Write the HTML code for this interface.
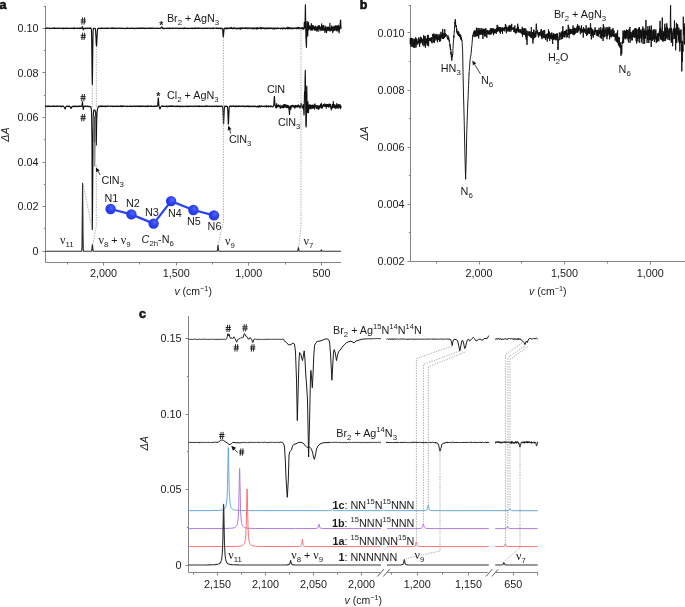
<!DOCTYPE html>
<html><head><meta charset="utf-8"><style>
html,body{margin:0;padding:0;background:#fff;overflow:hidden;}
svg{display:block;will-change:transform;}
text{font-family:"Liberation Sans",sans-serif;fill:#1a1a1a;}
</style></head><body>
<svg width="685" height="607" viewBox="0 0 685 607">
<rect width="685" height="607" fill="#fff"/>
<g id="pa">
<path d="M45.5,6 V262.5 H341 M43.8,6.5 H45.5" fill="none" stroke="#848484" stroke-width="1"/>
<line x1="42.5" x2="45.5" y1="28.5" y2="28.5" stroke="#848484" stroke-width="1"/>
<line x1="42.5" x2="45.5" y1="72.5" y2="72.5" stroke="#848484" stroke-width="1"/>
<line x1="42.5" x2="45.5" y1="117.5" y2="117.5" stroke="#848484" stroke-width="1"/>
<line x1="42.5" x2="45.5" y1="162.5" y2="162.5" stroke="#848484" stroke-width="1"/>
<line x1="42.5" x2="45.5" y1="206.5" y2="206.5" stroke="#848484" stroke-width="1"/>
<line x1="42.5" x2="45.5" y1="251.5" y2="251.5" stroke="#848484" stroke-width="1"/>
<line x1="43.8" x2="45.5" y1="50.5" y2="50.5" stroke="#848484" stroke-width="1"/>
<line x1="43.8" x2="45.5" y1="95.5" y2="95.5" stroke="#848484" stroke-width="1"/>
<line x1="43.8" x2="45.5" y1="139.5" y2="139.5" stroke="#848484" stroke-width="1"/>
<line x1="43.8" x2="45.5" y1="184.5" y2="184.5" stroke="#848484" stroke-width="1"/>
<line x1="43.8" x2="45.5" y1="228.5" y2="228.5" stroke="#848484" stroke-width="1"/>
<line x1="103.5" x2="103.5" y1="262.5" y2="265.5" stroke="#848484" stroke-width="1"/>
<line x1="176.5" x2="176.5" y1="262.5" y2="265.5" stroke="#848484" stroke-width="1"/>
<line x1="248.5" x2="248.5" y1="262.5" y2="265.5" stroke="#848484" stroke-width="1"/>
<line x1="321.5" x2="321.5" y1="262.5" y2="265.5" stroke="#848484" stroke-width="1"/>
<line x1="67.5" x2="67.5" y1="262.5" y2="264.5" stroke="#848484" stroke-width="1"/>
<line x1="139.5" x2="139.5" y1="262.5" y2="264.5" stroke="#848484" stroke-width="1"/>
<line x1="212.5" x2="212.5" y1="262.5" y2="264.5" stroke="#848484" stroke-width="1"/>
<line x1="285.5" x2="285.5" y1="262.5" y2="264.5" stroke="#848484" stroke-width="1"/>
<polyline fill="none" stroke="#111" stroke-width="1.15" stroke-linejoin="round"  points="45.50,28.43 45.70,28.15 46.10,28.47 46.30,28.13 46.50,28.26 46.70,28.00 46.90,28.38 47.10,28.46 47.30,27.85 47.50,28.31 47.70,28.19 47.90,28.27 48.10,28.20 48.30,28.30 48.50,28.20 48.70,28.29 48.90,28.13 49.10,28.33 49.30,28.11 49.50,28.65 49.70,28.24 49.90,28.43 50.10,28.23 50.30,28.40 50.50,28.33 50.70,28.51 51.10,28.21 51.70,28.40 51.90,28.28 52.10,28.40 52.50,28.13 52.70,28.37 52.90,28.39 53.10,28.18 53.30,28.47 53.70,28.14 53.90,28.46 54.10,28.29 54.30,28.32 54.50,27.83 54.70,28.49 55.30,28.27 55.50,28.43 55.70,28.19 56.30,28.34 56.70,28.20 57.10,28.48 57.30,28.49 57.50,28.42 57.70,28.05 58.10,28.15 58.30,28.34 58.50,28.15 58.70,28.31 58.90,28.22 59.30,28.29 59.70,28.19 59.90,28.44 60.10,28.20 60.30,28.49 60.50,28.13 60.70,28.38 61.10,28.33 61.30,28.47 61.50,28.31 62.10,28.35 62.30,28.23 62.50,28.66 62.70,28.43 62.90,28.46 63.50,28.02 63.70,28.58 63.90,28.18 64.10,28.58 64.30,28.31 64.50,28.24 64.70,28.36 64.90,28.19 65.10,28.36 65.30,28.30 65.50,28.43 65.70,28.01 66.10,28.57 66.30,28.20 66.50,28.50 66.70,28.15 66.90,28.41 67.10,28.47 67.70,28.02 67.90,28.36 68.10,28.22 68.30,28.22 68.70,28.67 69.10,28.13 69.30,28.43 69.50,28.50 69.90,28.23 70.10,28.20 70.50,28.34 70.70,28.26 70.90,28.40 71.10,28.01 71.30,28.06 71.50,28.44 71.70,28.21 72.10,28.18 72.30,28.39 72.70,28.47 72.90,28.10 73.30,28.35 73.50,28.12 73.70,28.10 73.90,28.28 74.10,28.14 74.30,28.75 74.50,27.93 74.70,28.34 75.10,28.40 75.50,28.21 75.90,28.25 76.10,28.39 76.30,28.19 76.50,28.24 76.70,28.42 76.90,28.18 77.30,28.33 77.50,28.13 77.90,28.15 78.10,28.35 78.50,28.43 78.90,28.05 79.10,27.99 79.30,28.59 79.50,28.19 79.70,28.31 79.90,28.10 80.10,28.09 80.30,27.85 80.50,28.45 80.70,28.54 80.90,28.45 81.10,28.11 81.50,28.38 81.70,28.04 81.90,28.20 82.30,26.76 82.50,26.66 83.10,29.35 83.30,29.80 83.50,29.52 83.90,28.34 84.30,28.27 84.50,28.44 84.90,28.20 85.10,28.32 85.30,28.70 85.70,28.15 85.90,28.44 86.10,28.40 86.30,28.19 86.50,28.51 86.90,28.36 87.10,28.54 87.50,28.21 87.70,28.33 87.90,28.03 88.10,28.43 88.30,28.31 88.70,28.47 88.90,28.38 89.10,28.45 89.30,27.95 89.50,28.51 89.90,28.45 90.10,28.19 90.50,28.24 90.70,28.45 90.90,27.94 91.30,28.80 91.50,31.37 91.70,38.97 92.10,75.22 92.30,84.42 92.50,75.17 92.90,39.15 93.10,31.47 93.30,28.91 93.50,28.50 93.90,28.22 94.10,28.41 94.30,28.39 94.70,28.59 94.90,28.33 95.10,28.37 95.30,28.76 95.50,29.64 95.90,35.62 96.30,44.57 96.50,46.09 96.70,44.44 97.30,31.95 97.50,29.76 97.90,28.32 98.10,28.35 98.30,28.13 98.70,28.43 99.50,28.39 99.70,28.24 100.10,28.57 100.70,28.22 100.90,28.52 101.10,28.17 101.30,28.29 101.50,28.14 101.70,28.39 102.10,28.01 102.30,28.46 102.50,28.24 102.70,28.36 102.90,28.19 103.10,28.16 103.30,28.42 103.50,28.25 104.10,28.49 104.30,28.34 104.70,28.40 104.90,28.20 105.10,28.47 105.30,28.51 105.50,28.44 105.70,28.19 105.90,28.39 106.10,28.11 106.30,28.10 106.70,28.52 106.90,28.16 107.10,28.17 107.30,28.38 107.50,28.39 107.70,28.38 107.90,28.18 108.10,28.26 108.50,28.14 108.70,28.44 108.90,28.13 109.10,28.49 110.30,28.20 110.50,28.28 110.90,28.20 111.10,28.45 111.30,27.86 111.50,28.51 111.70,28.26 111.90,28.45 112.10,28.44 112.50,27.83 112.70,28.36 112.90,28.26 113.10,28.29 113.30,28.54 113.50,28.14 113.70,28.03 113.90,28.16 114.10,28.13 114.30,28.45 114.50,28.51 114.70,28.23 114.90,28.58 115.10,28.15 115.30,28.46 115.50,28.25 115.70,28.34 115.90,28.14 116.30,28.44 116.50,28.36 117.50,28.51 117.70,28.15 118.10,28.47 118.50,28.17 118.70,28.37 118.90,28.01 119.10,28.15 119.30,28.05 119.50,28.26 119.70,28.19 120.10,28.51 120.30,28.27 120.50,28.32 120.70,28.24 120.90,28.57 121.10,28.16 121.50,28.51 121.90,28.44 122.10,28.17 122.30,28.25 122.50,28.16 122.90,28.41 123.10,28.19 123.50,28.39 123.70,28.31 123.90,28.45 124.10,28.24 124.30,28.47 124.50,28.45 124.70,28.75 124.90,28.56 125.10,28.59 125.30,28.31 125.50,28.48 125.70,28.42 125.90,28.22 126.10,28.44 126.30,28.29 126.50,28.33 126.70,28.17 126.90,28.34 127.10,28.00 127.30,28.38 127.50,28.16 128.10,28.32 128.30,28.15 128.50,28.39 128.70,28.43 128.90,28.25 129.10,28.43 129.30,28.44 129.50,28.43 129.70,28.26 129.90,28.33 130.10,28.59 130.30,28.49 130.50,28.07 130.70,28.39 131.10,28.27 131.30,28.48 131.50,28.13 131.70,28.28 131.90,28.23 132.10,28.00 132.50,28.45 132.70,28.34 133.10,28.32 133.30,28.57 133.70,28.23 134.10,28.47 134.30,28.35 134.50,28.53 134.70,28.25 134.90,28.46 135.10,28.40 135.30,28.56 135.50,28.23 135.70,28.41 135.90,28.39 136.30,28.16 136.50,28.27 136.70,28.18 136.90,28.43 137.30,28.07 137.50,28.39 137.70,28.26 138.10,28.29 138.30,28.51 138.50,28.17 138.70,28.04 139.10,28.46 139.30,28.38 139.50,28.05 139.70,28.60 139.90,28.31 140.10,28.46 140.30,27.92 140.50,28.27 140.70,28.07 141.30,28.47 141.50,28.05 141.70,28.36 141.90,28.30 142.10,27.93 142.30,28.06 142.50,28.45 142.70,28.31 142.90,28.44 143.10,28.10 143.30,28.44 143.50,28.20 143.90,28.12 144.30,28.75 144.50,28.31 144.70,28.39 144.90,28.14 145.10,28.37 145.30,28.17 145.70,28.47 146.10,28.27 146.30,28.37 146.50,28.20 147.10,28.44 147.50,28.24 147.90,28.53 148.30,28.17 148.90,28.34 149.10,28.14 149.30,28.32 149.70,28.13 149.90,28.34 150.10,28.20 150.30,28.59 150.70,28.13 150.90,28.17 151.10,28.40 151.30,28.02 151.50,28.38 151.90,28.14 152.10,28.17 152.30,28.46 152.50,28.15 152.90,28.24 153.10,28.16 153.30,28.38 153.70,28.24 153.90,28.37 154.30,28.26 154.50,28.38 154.70,28.14 155.10,28.28 155.30,28.21 155.50,28.31 155.90,28.25 156.30,28.42 156.50,28.41 157.10,27.96 157.30,28.13 157.50,28.51 157.90,28.43 158.10,28.28 158.90,28.46 159.50,28.28 159.90,28.46 160.30,28.29 160.50,28.36 161.10,27.67 161.50,26.91 161.70,26.87 162.10,27.60 162.30,28.33 162.70,28.35 162.90,28.56 163.10,28.28 163.30,28.23 163.70,28.38 163.90,28.14 164.10,28.53 164.50,28.24 164.70,28.59 165.50,28.24 165.70,28.45 165.90,28.28 166.30,28.43 166.50,28.28 166.70,28.33 166.90,28.63 167.10,28.26 167.30,28.13 167.50,28.19 167.70,28.40 167.90,28.17 168.10,28.47 168.30,28.57 168.50,28.26 168.70,28.44 169.10,28.12 169.30,28.59 169.70,28.21 169.90,28.56 170.10,27.99 170.30,28.30 170.70,28.52 171.10,28.32 171.30,28.40 171.90,28.29 172.10,28.05 172.30,28.46 172.50,28.22 172.90,28.50 173.10,28.31 173.50,28.18 173.90,28.41 174.10,28.17 174.30,28.42 174.70,28.20 175.30,28.17 175.50,28.21 175.70,28.41 175.90,28.19 176.10,28.43 176.70,28.05 176.90,28.03 177.30,28.35 177.90,28.22 178.10,28.59 178.30,28.42 178.70,28.31 178.90,28.42 179.10,28.29 179.30,28.41 179.70,28.15 179.90,28.42 180.50,28.43 180.70,28.15 181.10,28.45 181.30,28.49 181.70,28.38 181.90,28.12 182.70,28.35 182.90,28.55 183.10,28.43 183.30,28.56 183.50,28.22 183.70,28.42 184.10,28.14 184.30,28.42 184.50,28.45 184.70,27.91 185.30,28.39 185.70,28.19 186.10,28.57 186.50,28.42 186.70,28.17 186.90,28.09 187.30,28.62 187.50,28.48 187.70,28.51 187.90,28.24 188.30,28.35 188.50,28.28 188.70,28.33 188.90,28.17 189.10,28.43 189.70,28.48 190.10,28.33 190.30,28.44 190.50,28.25 190.70,28.35 190.90,28.29 191.10,28.51 191.50,28.00 191.90,28.44 192.10,28.16 192.50,28.60 192.90,28.14 193.10,28.49 193.30,28.47 193.70,28.04 193.90,28.46 194.10,28.15 194.30,28.38 194.50,28.20 194.70,28.29 194.90,28.18 195.10,28.59 195.30,28.05 195.50,28.45 195.70,28.08 195.90,28.25 196.10,28.02 196.30,28.39 196.50,28.02 196.70,28.36 197.10,28.01 197.30,28.17 197.70,28.19 197.90,28.47 198.10,28.47 198.50,27.83 198.70,27.85 198.90,28.32 199.10,28.40 199.30,28.41 199.70,28.22 200.10,28.36 200.30,28.19 200.70,28.23 200.90,28.13 201.10,28.16 201.30,28.40 201.50,28.24 201.90,28.27 202.30,28.62 202.50,28.32 203.10,28.27 203.30,28.42 203.50,28.31 203.70,28.41 203.90,28.16 204.10,28.34 204.50,28.14 204.90,28.49 205.10,28.23 205.50,28.40 205.70,28.39 205.90,28.18 206.30,28.40 206.50,28.13 206.70,28.16 206.90,28.44 207.10,28.37 207.50,28.47 207.70,28.11 207.90,28.30 208.50,28.29 208.70,28.04 208.90,28.46 209.30,28.15 209.50,28.20 209.70,28.48 209.90,28.53 210.30,28.30 210.50,28.02 210.70,28.32 211.70,28.23 212.30,28.45 212.50,28.07 212.90,28.31 213.10,28.17 213.30,28.76 213.50,28.12 213.70,28.38 213.90,28.04 214.10,28.31 214.30,28.13 214.70,28.23 215.30,28.14 215.50,28.28 215.90,28.19 216.10,28.46 216.50,27.91 216.70,28.53 216.90,28.42 217.10,28.14 217.70,28.40 218.10,28.07 218.30,28.60 218.50,28.22 218.70,28.27 218.90,28.13 219.70,28.52 219.90,28.27 220.30,28.55 220.50,28.07 220.70,28.41 220.90,28.32 221.10,28.71 221.30,28.22 221.70,28.29 221.90,28.17 222.50,28.90 222.70,30.01 223.10,35.49 223.30,36.83 223.50,35.41 224.10,28.40 224.30,28.47 224.50,28.76 224.70,28.20 224.90,28.32 225.10,28.73 225.50,28.11 225.70,28.62 225.90,28.14 226.10,28.86 226.30,28.12 226.50,28.09 226.70,28.20 226.90,28.62 227.10,27.71 227.50,28.58 227.70,28.10 227.90,28.31 228.30,28.38 228.50,28.57 228.70,28.28 229.10,27.99 229.30,28.49 229.50,28.09 229.90,28.20 230.10,28.51 230.30,27.80 230.50,27.94 230.70,28.35 230.90,28.50 231.10,27.37 231.30,28.29 231.50,27.98 231.70,28.34 231.90,27.99 232.10,28.47 232.50,28.77 232.90,27.99 233.10,28.41 233.30,27.72 233.70,28.54 233.90,28.16 234.10,28.62 234.50,28.25 234.70,27.76 234.90,28.41 235.10,28.35 235.30,28.51 235.50,28.19 235.90,28.57 236.10,28.26 236.30,28.87 236.50,28.47 236.70,28.47 236.90,28.31 237.10,28.44 237.30,28.87 237.50,28.30 237.90,28.47 238.10,28.36 238.30,28.46 238.50,28.23 238.70,28.49 238.90,28.00 239.30,28.26 239.50,28.85 240.30,27.77 240.70,29.25 240.90,28.13 241.10,27.97 241.30,28.60 241.50,28.07 241.70,28.25 242.30,28.48 242.50,28.04 242.70,27.94 242.90,27.57 243.10,28.41 243.50,28.53 243.90,28.46 244.30,28.07 244.50,28.55 244.70,28.08 244.90,28.20 245.10,28.60 245.30,27.91 245.70,28.37 245.90,27.78 246.10,27.78 246.30,28.23 246.50,27.82 246.70,28.28 247.10,28.06 247.50,28.59 247.70,28.05 247.90,28.64 248.10,27.97 248.30,27.96 248.50,28.57 248.70,28.01 249.10,28.17 249.30,27.95 249.50,28.26 249.70,28.06 249.90,28.17 250.10,27.91 250.30,28.26 250.50,28.33 250.70,28.17 250.90,28.84 251.30,28.08 251.50,28.27 251.90,28.10 252.30,28.12 252.50,28.79 252.70,28.09 252.90,28.00 253.10,28.37 253.30,28.19 253.50,28.72 253.70,28.10 253.90,28.44 254.10,27.91 254.30,28.59 254.50,28.50 254.70,28.71 254.90,27.99 255.10,28.16 255.30,28.05 255.50,28.52 255.70,28.23 255.90,28.32 256.10,28.88 256.30,27.87 256.50,28.33 256.70,28.54 256.90,29.15 257.10,28.05 257.30,27.65 257.50,27.57 257.70,28.03 257.90,28.18 258.10,28.54 258.30,28.04 258.50,28.07 258.90,28.60 259.30,28.04 259.50,28.04 259.90,28.28 260.10,28.58 260.50,27.35 260.70,27.75 260.90,27.93 261.10,28.68 261.30,27.83 261.50,28.02 261.70,28.89 262.10,27.87 262.30,28.19 262.50,28.19 262.70,28.34 262.90,27.99 263.10,27.96 263.30,28.25 263.70,28.53 263.90,27.71 264.10,28.51 264.50,28.49 264.70,28.84 264.90,27.97 265.10,28.44 265.30,28.36 265.50,28.55 265.70,28.40 265.90,28.05 266.10,28.03 266.30,28.28 266.50,27.99 266.70,28.88 267.10,27.82 267.30,28.43 267.50,28.57 267.70,28.24 268.10,28.47 268.30,27.99 268.50,28.56 268.70,28.01 268.90,28.59 269.30,28.31 269.50,27.79 269.70,28.38 269.90,28.34 270.10,27.97 270.50,28.23 270.70,28.66 270.90,28.64 271.30,28.07 271.50,28.25 271.70,28.07 271.90,28.41 272.10,28.50 272.30,28.43 272.70,28.07 272.90,28.05 273.10,29.05 273.30,28.01 273.50,28.65 273.70,28.16 274.10,28.97 274.30,28.47 274.50,28.38 274.70,28.64 274.90,28.49 275.10,27.78 275.30,27.95 275.50,28.63 275.70,28.38 276.10,28.46 276.30,28.81 276.50,28.38 276.70,28.36 276.90,27.93 277.10,28.02 277.50,28.50 277.90,27.81 278.10,28.44 278.30,28.13 278.70,28.56 278.90,28.61 279.30,28.28 279.50,28.52 279.70,28.49 280.30,28.13 280.70,28.86 280.90,28.62 281.10,28.56 281.30,28.10 281.50,28.44 281.70,28.34 282.10,28.64 282.30,28.16 282.70,29.06 283.10,27.97 283.30,28.25 283.50,27.86 283.70,28.47 283.90,28.54 284.30,28.11 284.50,28.07 284.90,28.58 285.10,28.34 285.30,28.48 285.50,28.83 285.70,28.03 285.90,28.38 286.10,27.94 286.30,28.37 286.50,28.54 286.90,28.45 287.10,28.83 287.30,27.39 287.50,28.79 287.70,28.25 287.90,28.04 288.10,28.19 288.30,27.39 288.70,28.86 289.10,27.96 289.50,28.42 289.70,27.50 289.90,28.12 290.10,27.99 290.50,28.33 290.70,28.72 290.90,27.91 291.10,28.75 291.30,28.37 291.50,28.56 291.70,28.07 291.90,28.94 292.10,28.16 292.30,28.29 292.50,28.64 292.70,28.11 293.10,28.06 293.30,28.60 293.50,28.45 293.70,28.59 293.90,27.97 294.10,28.51 294.30,28.07 294.50,28.40 294.70,28.51 294.90,28.00 295.10,28.11 295.30,28.45 295.50,27.95 295.70,28.22 295.90,28.08 296.10,28.09 296.30,28.79 296.50,28.19 296.70,27.96 296.90,28.50 297.10,27.42 297.30,28.27 297.70,27.93 297.90,28.59 298.10,28.52 298.30,27.73 298.50,27.40 298.90,28.84 299.10,28.04 299.30,28.04 299.50,27.50 299.70,28.08 300.10,28.35 300.30,28.35 300.50,28.06 300.70,28.28 300.90,28.73 301.10,27.79 301.30,28.10 301.50,28.19 301.70,28.71 301.90,28.66 302.10,27.52 302.30,27.64 302.50,28.18 302.70,27.81 303.10,29.48 303.30,28.38 303.50,28.32 303.70,27.93 303.90,28.16 304.10,28.80 304.30,22.33 304.50,25.57 304.60,24.13 304.70,24.12 304.90,27.92 305.10,22.94 305.40,4.75 305.90,36.38 306.40,47.31 307.10,21.41 307.30,23.21 307.50,33.56 307.70,35.90 307.90,31.30 308.10,29.30 308.30,23.41 308.40,25.34 308.50,22.40 308.70,27.72 308.90,29.59 309.30,25.79 309.50,26.48 309.70,28.78 309.90,26.50 310.10,26.19 310.30,28.83 310.50,28.00 310.70,28.12 310.90,30.43 311.10,28.54 311.30,23.53 311.70,28.44 311.90,29.46 312.30,30.09 312.50,29.62 312.70,25.25 312.90,27.89 313.10,25.56 313.50,28.45 313.70,26.14 313.90,26.52 314.10,30.08 314.30,27.66 314.50,28.97 314.70,27.73 314.90,27.42 315.10,29.93 315.30,29.58 315.50,26.14 315.70,29.59 316.10,27.04 316.30,30.84 316.50,27.71 316.70,30.67 316.90,27.48 317.30,29.61 317.50,26.46 317.70,26.79 317.90,26.13 318.10,31.38 318.30,26.44 318.50,25.81 318.70,27.86 318.90,26.74 319.10,28.89 319.30,25.47 319.50,28.19 319.70,26.43 319.90,26.80 320.10,30.69 320.30,27.16 320.50,29.52 320.70,27.72 320.90,29.10 321.30,26.96 321.50,30.07 321.70,23.87 321.90,30.12 322.10,30.11 322.30,29.14 322.50,25.83 322.70,30.02 322.90,28.75 323.10,30.46 323.30,27.01 323.50,25.99 323.70,28.26 323.90,25.32 324.30,29.87 324.50,28.64 324.70,29.68 324.90,32.40 325.10,28.73 325.30,30.97 325.70,26.41 325.90,27.45 326.10,27.67 326.30,27.42 326.50,32.60 326.70,27.86 326.90,27.90 327.10,29.17 327.30,29.01 327.50,29.09 327.70,26.96 327.90,30.63 328.10,30.29 328.50,27.12 328.70,30.13 328.90,29.96 329.30,29.02 329.50,27.81 329.70,30.59 329.90,23.36 330.10,31.12 330.50,27.93 330.70,29.95 330.90,28.41 331.10,30.37 331.30,28.57 331.50,28.83 331.70,25.80 331.90,30.09 332.10,29.99 332.30,26.94 332.50,27.89 332.70,32.55 332.90,29.34 333.10,28.85 333.30,31.21 333.50,27.88 333.70,30.24 333.90,26.12 334.30,27.36 334.50,26.84 334.70,30.19 334.90,30.02 335.10,29.38 335.30,26.69 335.50,25.72 335.70,28.91 335.90,27.97 336.10,25.83 336.30,30.92 336.50,29.47 336.70,26.12 336.90,29.74 337.10,26.20 337.50,29.44 337.70,27.19 337.90,31.06 338.10,25.42 338.30,28.59 338.70,25.40 338.90,27.55 339.10,32.87 339.30,28.03 339.50,30.05 339.90,27.28 340.10,27.82 340.30,22.70 340.50,20.03 340.70,20.45 340.90,26.01 341.10,28.84"/>
<polyline fill="none" stroke="#111" stroke-width="1.15" stroke-linejoin="round"  points="45.50,106.80 45.70,106.13 45.90,106.47 46.10,106.17 46.30,106.37 46.50,106.16 46.70,106.26 46.90,106.65 47.10,106.35 47.50,106.10 47.90,106.46 48.30,106.10 48.50,106.15 48.70,106.51 48.90,106.08 49.10,106.51 49.30,106.58 49.70,106.50 49.90,105.92 50.10,106.45 50.30,106.31 50.50,106.48 50.90,106.46 51.10,106.27 51.30,106.48 51.90,106.07 52.10,106.04 52.30,106.09 52.50,106.53 52.70,106.31 52.90,106.36 53.10,106.18 53.30,106.48 53.50,106.00 53.70,106.46 53.90,105.95 54.30,106.14 54.50,106.46 54.90,106.12 55.10,106.46 55.50,106.24 55.90,106.49 56.50,106.06 56.70,106.38 57.10,105.91 57.50,106.47 57.70,106.23 57.90,106.28 58.30,106.59 58.70,106.18 59.10,106.28 59.30,106.04 59.50,106.26 59.90,106.03 60.30,106.32 60.50,106.11 60.70,106.16 61.10,106.50 61.30,106.85 61.50,106.28 61.90,106.51 62.10,106.13 62.30,106.31 62.50,106.10 62.90,106.12 63.30,106.19 63.70,106.45 63.90,106.70 64.50,107.69 64.70,108.48 65.10,109.03 65.90,106.73 66.10,106.65 66.30,106.37 66.70,106.35 66.90,106.21 67.10,106.48 68.10,106.14 68.50,106.62 68.70,105.97 68.90,106.49 69.10,106.30 69.50,106.15 70.10,106.95 70.30,106.74 70.90,108.24 71.10,108.02 71.30,108.36 71.70,107.10 71.90,107.20 72.10,106.31 72.30,106.30 72.50,106.47 72.70,106.32 72.90,106.32 73.10,106.59 73.50,106.13 73.70,106.27 73.90,106.23 74.10,106.62 74.30,106.15 74.50,106.10 74.70,106.46 75.10,106.26 75.30,106.61 75.70,106.11 76.10,106.55 76.30,106.35 76.70,106.45 76.90,106.29 77.10,106.57 77.70,106.37 77.90,106.73 78.30,106.09 78.50,106.36 78.70,106.43 79.10,106.20 79.50,106.50 79.70,106.09 79.90,106.44 80.10,106.48 80.70,106.10 80.90,106.41 81.10,106.41 81.30,106.23 81.50,106.50 81.70,106.02 81.90,106.01 82.50,101.94 83.10,108.68 83.30,109.49 83.70,107.48 84.10,106.32 84.30,106.03 84.70,106.45 84.90,106.39 85.10,106.19 85.30,106.19 85.50,106.49 86.10,106.12 86.30,106.16 86.50,106.21 86.70,106.60 87.10,106.11 87.50,106.37 87.90,106.11 88.10,106.39 88.50,106.46 88.70,106.30 88.90,106.61 89.10,106.48 89.50,106.64 89.70,106.30 90.60,106.80 91.20,108.30 91.60,112.00 92.00,140.00 92.30,229.50 92.60,200.00 93.00,140.00 93.30,115.00 93.80,110.00 94.80,110.00 95.60,112.00 96.00,125.00 96.30,145.00 96.60,125.00 97.00,112.00 97.60,108.50 98.30,107.00 98.70,106.30 98.90,106.15 99.10,106.12 99.30,106.48 99.50,106.32 99.70,106.56 100.10,106.14 100.50,106.18 100.90,106.58 101.30,105.92 101.50,106.43 101.70,106.10 102.30,106.43 102.70,106.21 102.90,106.64 103.10,106.39 103.30,106.41 103.70,106.17 104.10,106.47 104.30,106.28 104.70,106.53 104.90,106.11 105.10,106.14 105.70,106.75 105.90,106.21 106.10,106.44 106.30,106.14 106.50,106.38 106.90,106.27 107.10,106.04 107.30,106.14 107.50,105.98 107.70,106.32 107.90,106.31 108.10,105.97 108.30,106.44 108.50,106.26 108.90,106.20 109.10,106.29 109.50,106.22 109.70,106.34 109.90,106.11 110.10,106.41 110.30,106.43 110.50,106.18 110.70,106.16 110.90,106.46 111.10,106.22 111.50,106.19 111.70,106.27 111.90,105.96 112.30,106.34 112.50,106.12 112.70,106.47 112.90,106.30 113.10,106.59 113.30,106.22 113.50,106.78 113.70,106.39 114.10,106.32 114.30,106.18 114.50,106.37 115.10,106.18 115.30,106.25 115.50,106.18 115.70,106.43 115.90,106.49 116.10,105.99 116.30,106.23 116.50,106.13 117.10,106.46 117.30,106.10 117.50,106.14 117.90,106.35 118.10,106.61 118.30,106.32 118.50,106.37 118.70,106.15 119.10,106.49 119.30,106.23 119.50,106.42 120.10,106.51 120.30,106.31 120.50,105.77 120.70,106.44 120.90,106.37 121.10,106.54 121.30,106.00 121.50,106.35 121.90,106.06 122.30,106.67 122.70,105.79 122.90,106.42 123.30,105.86 123.50,106.12 123.90,106.26 124.10,106.21 124.30,105.99 124.70,106.47 124.90,106.27 125.10,106.25 125.30,106.38 125.50,106.27 125.70,106.49 126.30,106.24 126.70,106.45 126.90,106.20 127.10,106.29 127.30,106.20 127.70,106.66 127.90,105.97 128.10,106.44 128.30,106.35 128.90,106.45 129.30,106.31 129.50,106.49 129.70,106.24 129.90,106.47 130.10,106.41 130.30,105.87 130.50,106.35 130.70,106.49 130.90,106.18 131.10,106.49 131.30,106.20 131.50,106.19 131.70,106.37 131.90,106.24 132.10,106.50 132.30,106.23 132.50,106.38 132.70,106.36 132.90,106.58 133.30,106.11 133.70,106.15 133.90,106.46 134.10,106.44 134.30,106.12 134.50,106.26 134.90,106.10 135.10,106.30 135.30,105.99 135.70,106.63 136.30,106.07 136.50,106.44 136.70,106.40 136.90,106.21 137.30,106.45 137.50,105.94 137.70,106.43 137.90,106.11 138.30,106.36 138.50,106.16 138.70,106.29 138.90,106.17 139.30,106.69 139.90,105.95 140.10,106.42 140.30,106.17 140.50,106.44 140.70,106.46 141.30,105.94 141.50,106.57 141.70,106.49 141.90,106.15 142.10,106.12 142.30,106.32 142.50,106.15 142.70,106.46 142.90,106.27 143.10,106.34 143.30,106.17 143.50,106.23 143.70,106.06 144.10,106.51 144.30,106.54 144.50,106.48 144.70,106.14 144.90,106.42 145.10,106.48 145.30,106.81 145.50,106.20 145.70,106.56 146.10,106.10 146.30,106.45 146.70,106.40 146.90,106.50 147.10,106.21 147.30,106.35 147.50,105.87 147.70,106.58 148.10,106.22 148.30,106.46 148.50,106.13 148.70,106.38 148.90,106.11 149.10,106.13 149.50,106.37 149.70,106.18 149.90,106.47 150.10,106.17 150.30,106.48 150.90,106.11 151.10,106.32 151.30,105.84 151.50,106.45 151.70,106.37 151.90,106.45 152.10,106.22 152.30,106.19 152.50,106.26 152.70,106.19 153.10,106.40 153.50,106.19 153.90,106.67 154.10,106.15 154.30,106.22 154.50,106.09 154.70,106.38 154.90,106.08 155.10,106.42 155.30,106.22 155.70,106.20 155.90,106.31 156.10,106.17 156.50,106.49 156.70,105.93 157.10,106.31 157.30,106.19 157.70,105.58 158.10,99.49 158.30,97.86 158.50,99.38 158.70,102.98 159.10,106.71 159.50,107.35 159.90,109.02 160.10,108.60 160.30,108.51 160.50,107.45 161.10,106.44 161.70,106.10 161.90,106.23 162.10,105.80 162.70,106.46 162.90,106.17 163.30,106.24 163.50,106.57 163.70,106.22 163.90,106.18 164.10,106.38 164.90,106.44 165.30,106.24 165.50,106.47 165.70,106.28 165.90,106.76 166.30,106.09 166.50,106.39 166.70,106.49 166.90,105.97 167.30,106.34 167.50,106.75 167.70,106.37 167.90,106.41 168.10,106.19 168.30,106.58 168.70,106.21 168.90,106.19 169.10,106.37 169.50,105.74 169.70,106.39 169.90,106.15 170.10,106.56 170.30,106.15 170.50,106.12 170.70,106.30 171.10,106.13 171.30,106.35 171.50,106.15 171.70,106.62 171.90,105.79 172.30,106.37 172.50,106.20 172.70,106.44 173.10,106.02 173.30,106.36 173.90,106.29 174.10,106.17 174.30,106.36 174.50,106.17 174.90,106.34 175.10,106.23 175.30,106.47 175.50,106.14 175.90,106.59 176.30,106.14 176.50,106.33 176.70,106.35 176.90,106.58 177.10,106.07 177.30,106.77 177.50,106.01 177.70,106.31 177.90,106.20 178.10,106.51 178.30,106.16 178.70,105.97 178.90,106.13 179.10,106.64 179.30,106.36 179.70,106.66 179.90,106.12 180.10,106.15 180.30,106.56 180.50,106.17 180.90,106.65 181.10,106.35 181.50,106.18 182.10,106.43 182.30,106.27 182.70,106.56 182.90,106.24 183.10,106.55 183.30,106.37 183.70,106.21 183.90,106.57 184.10,106.59 184.50,106.38 184.70,106.48 185.10,106.27 185.30,106.42 185.70,106.18 185.90,106.59 186.50,106.13 186.70,106.32 186.90,106.02 187.30,106.20 187.50,106.61 187.70,106.29 187.90,106.30 188.10,106.80 188.30,106.26 188.70,106.43 189.10,106.07 189.30,106.35 189.70,106.17 189.90,106.42 190.30,106.23 190.50,106.41 190.70,106.00 191.10,106.53 191.50,106.34 191.70,106.12 192.10,106.44 192.30,106.26 192.50,106.31 192.90,106.19 193.10,106.43 193.30,106.42 193.50,106.09 193.70,106.47 193.90,106.59 194.10,106.27 194.30,106.56 194.50,106.41 194.70,106.02 194.90,106.16 195.10,106.10 195.30,105.84 195.50,106.20 195.70,106.12 196.10,106.48 196.30,106.13 196.50,106.32 196.70,106.13 196.90,106.31 197.30,106.25 197.50,106.51 197.70,106.13 197.90,106.41 198.10,106.01 198.30,106.28 198.50,106.14 198.70,106.65 198.90,106.30 199.10,106.36 199.50,105.96 199.90,106.43 200.10,106.48 200.30,106.23 200.50,106.37 200.70,106.14 200.90,106.20 201.10,106.45 201.30,106.10 201.50,106.42 201.70,106.41 201.90,106.57 202.10,106.10 202.30,106.26 202.50,106.22 202.70,106.50 202.90,106.49 203.10,106.26 203.50,106.31 203.70,106.23 203.90,106.52 204.10,106.22 204.30,106.46 204.50,106.20 204.70,106.55 204.90,106.16 205.30,106.18 205.50,106.45 205.70,106.13 205.90,106.50 206.10,106.43 206.50,105.82 206.70,106.31 206.90,106.41 207.10,106.11 207.50,106.36 207.70,106.19 208.10,106.27 208.30,106.17 208.50,106.37 208.70,106.21 208.90,106.21 209.10,106.43 209.30,105.97 209.50,106.44 209.70,106.32 209.90,106.62 210.10,106.27 210.50,106.49 210.70,106.34 211.10,106.31 211.30,106.59 211.50,106.46 211.70,106.09 212.30,106.55 212.50,106.33 212.70,106.43 212.90,106.29 213.10,105.96 213.30,106.07 213.50,106.37 213.90,106.11 214.30,106.09 214.70,106.52 214.90,106.10 215.10,106.32 215.30,106.39 215.50,106.38 215.70,106.21 215.90,106.41 216.10,106.32 216.30,105.97 216.70,106.44 217.30,106.09 217.70,106.81 218.10,106.15 218.30,106.38 218.50,106.11 218.90,106.41 219.10,106.01 219.30,106.38 219.70,106.57 220.10,106.37 220.30,106.41 220.70,106.24 220.90,106.59 221.10,106.15 221.30,105.98 221.70,106.26 221.90,106.07 222.10,106.42 222.30,106.28 222.70,106.80 222.90,108.57 223.50,123.39 223.60,124.02 224.30,108.77 224.50,106.96 224.90,106.12 225.10,106.12 225.50,106.41 225.70,106.25 226.30,106.46 226.50,106.15 226.70,106.42 227.10,106.24 227.30,106.28 227.70,108.51 228.30,123.48 228.40,124.28 228.50,123.38 229.10,108.41 229.30,107.27 229.70,106.09 230.10,106.30 230.30,106.08 230.50,106.39 230.70,106.01 230.90,106.51 231.10,105.95 231.50,106.58 231.70,106.56 231.90,106.02 232.10,106.33 232.50,106.47 232.70,106.07 232.90,106.20 233.10,106.07 233.30,106.14 233.50,105.78 233.70,106.24 233.90,105.89 234.10,106.50 234.30,106.60 234.70,106.16 235.10,106.67 235.30,106.09 235.50,106.78 235.70,106.14 235.90,106.53 236.10,106.44 236.30,105.79 236.90,106.51 237.10,106.45 237.30,106.77 237.50,106.45 237.70,106.48 237.90,106.08 238.10,105.91 238.30,106.58 238.70,106.45 238.90,106.00 239.10,106.36 239.30,106.37 239.50,106.22 239.70,106.44 239.90,106.13 240.30,106.01 240.50,106.37 240.90,106.25 241.10,106.36 241.30,106.01 241.50,106.48 241.70,106.49 241.90,106.07 242.10,106.34 242.30,106.15 242.50,106.31 242.90,106.16 243.10,106.52 243.30,106.08 243.90,106.63 244.10,106.05 244.50,106.72 244.70,106.04 244.90,106.36 245.50,106.45 245.70,106.74 245.90,106.15 246.10,106.10 246.30,106.34 246.70,106.13 246.90,106.32 247.10,106.02 247.30,105.97 247.70,106.50 247.90,105.98 248.10,106.84 248.30,106.35 248.70,106.75 249.10,105.81 249.30,106.34 249.50,106.07 249.70,106.00 250.10,106.63 250.50,106.59 251.10,106.27 251.30,106.63 251.50,106.54 251.70,106.01 251.90,106.72 252.10,106.25 252.30,106.10 252.70,106.47 252.90,106.48 253.10,106.24 253.50,106.61 253.70,106.13 253.90,106.38 254.10,105.98 254.30,106.74 254.70,106.36 255.10,106.44 255.30,106.16 255.50,106.25 255.70,106.59 255.90,106.34 256.10,106.32 256.30,106.52 256.50,106.47 256.70,106.54 256.90,107.13 257.10,106.42 257.30,106.15 257.50,106.71 257.70,106.18 258.10,106.11 258.30,107.06 258.50,106.53 258.70,106.55 258.90,106.32 259.10,106.52 259.30,105.52 259.50,106.21 259.90,106.88 260.10,106.60 260.30,105.99 260.50,106.83 260.70,106.26 260.90,106.53 261.10,106.06 261.30,106.40 261.50,105.99 261.70,106.06 261.90,106.38 262.10,106.42 262.30,105.98 262.50,106.31 262.70,106.34 262.90,106.28 263.10,106.00 263.30,106.44 263.50,106.38 263.70,106.43 263.90,106.26 264.10,106.79 264.70,106.08 264.90,106.11 265.10,106.50 265.50,105.99 265.70,106.28 265.90,105.91 266.10,106.01 266.30,105.76 266.50,107.11 266.70,106.16 266.90,105.99 267.10,106.32 267.50,106.25 267.70,105.99 267.90,106.52 268.30,106.84 268.50,106.17 268.70,105.91 268.90,106.52 269.30,106.54 269.50,106.19 269.70,106.58 269.90,106.15 270.10,106.02 270.30,106.09 270.50,106.81 270.70,106.63 270.90,106.10 271.10,106.44 271.30,106.04 271.50,106.16 271.70,106.62 271.90,106.52 272.30,106.58 272.50,106.50 272.70,106.83 272.90,106.79 273.10,106.18 273.30,106.20 273.50,106.00 273.90,104.28 274.10,99.49 274.30,98.10 274.40,96.24 274.50,96.92 274.90,104.81 275.10,105.49 275.30,105.25 275.50,107.18 275.70,107.60 276.10,105.38 276.30,108.03 276.50,106.51 276.70,103.50 276.90,107.12 277.10,106.73 277.30,105.75 277.50,105.84 277.70,106.63 277.90,106.66 278.10,106.35 278.30,104.77 278.50,105.29 278.70,106.39 279.10,106.46 279.30,106.80 279.50,105.94 279.70,105.78 279.90,106.49 280.10,105.19 280.30,108.31 280.50,107.19 280.70,107.05 280.90,107.08 281.10,106.51 281.30,107.22 281.50,105.71 281.70,107.75 282.30,105.65 282.50,107.37 282.70,106.09 282.90,106.36 283.10,106.97 283.30,106.23 283.50,107.83 283.70,104.56 283.90,105.47 284.10,104.65 284.30,106.76 284.50,107.08 284.70,107.14 284.90,104.63 285.10,104.52 285.30,106.76 285.50,105.36 285.70,105.80 285.90,105.35 286.10,107.53 286.30,107.41 286.70,105.16 286.90,106.96 287.10,107.78 287.50,105.31 287.70,107.44 287.90,106.03 288.10,106.81 288.30,105.50 288.50,107.93 288.70,106.08 288.90,107.44 289.50,114.46 289.90,107.64 290.30,106.00 290.50,107.17 290.70,107.49 290.90,109.12 291.10,105.84 291.30,107.03 291.50,106.93 291.70,105.65 291.90,107.15 292.10,105.63 292.30,105.43 292.50,106.25 292.70,106.28 292.90,105.50 293.10,105.31 293.30,106.47 293.50,105.51 293.70,105.96 293.90,107.20 294.30,105.95 294.70,108.11 295.10,105.93 295.30,105.44 295.50,107.27 295.70,107.31 295.90,105.76 296.10,105.43 296.30,106.87 296.70,106.85 296.90,106.58 297.10,105.71 297.50,107.04 297.70,105.41 297.90,106.40 298.10,106.78 298.30,105.39 298.50,104.92 298.70,106.75 298.90,105.94 299.30,107.06 299.50,106.71 299.70,105.83 299.90,105.92 300.10,107.95 300.30,106.54 300.50,105.96 300.70,106.98 301.10,103.23 301.30,106.56 301.50,106.30 301.70,106.23 302.10,107.02 302.30,106.69 302.50,106.97 302.70,108.09 302.90,105.62 303.10,104.67 303.30,108.04 303.50,107.20 303.70,109.46 304.00,114.87 304.10,113.42 304.50,93.54 304.70,91.25 304.90,93.95 305.10,78.29 305.30,70.42 305.90,125.20 306.10,126.91 306.30,124.48 306.80,85.99 307.10,107.19 307.30,112.44 307.50,112.31 307.70,103.66 307.90,101.92 308.10,104.18 308.50,112.62 308.70,108.47 308.90,108.50 309.10,105.39 309.30,107.80 309.50,107.52 309.70,108.74 309.90,104.52 310.30,108.50 310.50,105.43 310.90,108.90 311.10,105.34 311.30,105.25 311.50,107.90 311.70,106.27 311.90,108.04 312.10,105.74 312.30,105.40 312.50,108.19 312.70,105.06 312.90,104.97 313.30,107.15 313.50,106.68 313.70,108.13 313.90,105.22 314.10,107.10 314.30,105.01 314.50,109.06 314.70,104.74 314.90,103.78 315.30,106.11 315.50,105.75 315.90,106.72 316.10,107.92 316.50,105.65 316.90,108.69 317.10,108.87 317.50,106.32 317.70,105.60 317.90,105.76 318.10,105.69 318.30,108.19 318.50,107.15 318.70,109.49 318.90,107.76 319.10,108.83 319.30,106.34 319.50,107.07 319.70,105.50 319.90,106.65 320.10,106.20 320.30,107.73 320.50,104.66 320.70,106.48 320.90,106.09 321.10,105.12 321.30,103.22 321.70,108.11 321.90,106.34 322.10,106.55 322.30,105.91 322.50,107.92 322.70,106.57 322.90,106.26 323.10,104.61 323.30,104.68 323.50,106.09 323.90,105.43 324.10,104.23 324.30,104.52 324.50,106.04 324.70,106.11 324.90,103.83 325.10,106.53 325.30,106.05 325.50,106.06 325.70,104.83 325.90,105.81 326.10,104.98 326.30,108.07 326.50,104.34 326.70,106.24 326.90,104.65 327.10,105.48 327.30,104.68 327.50,106.43 327.70,105.85 327.90,106.28 328.10,104.72 328.30,104.20 328.50,107.02 328.70,106.51 328.90,107.04 329.10,106.13 329.30,106.46 329.50,104.08 329.70,106.14 329.90,106.25 330.10,105.78 330.30,104.46 330.50,104.40 330.70,107.49 330.90,107.00 331.30,110.03 331.50,106.79 331.70,106.83 331.90,108.62 332.30,104.60 332.50,104.72 332.70,107.36 332.90,107.35 333.10,107.62 333.30,101.61 333.50,106.93 333.70,104.47 333.90,107.08 334.10,104.99 334.30,104.48 334.50,105.67 334.70,105.80 334.90,107.97 335.10,105.00 335.30,105.14 335.50,108.52 335.70,106.82 336.30,107.90 336.50,107.28 336.70,103.51 336.90,103.79 337.10,108.00 337.30,105.10 337.50,104.98 337.70,108.05 337.90,106.38 338.10,107.31 338.30,104.66 338.50,107.86 338.70,107.92 339.10,104.84 339.30,107.09 339.50,106.70 339.70,106.63 339.90,107.07 340.10,104.61 340.30,105.35 340.50,108.59 340.90,106.03 341.10,107.70"/>
<path d="M92.7,116 L96.2,116 L95.3,166.5 L93.7,166.5 Z" fill="#8e8e8e"/>
<path d="M93.2,116 L95.9,116 L95.2,142 L93.8,142 Z" fill="#5a5a5a"/>
<polyline fill="none" stroke="#2e2e2e" stroke-width="1.15" stroke-linejoin="round"  points="45.50,251.20 81.25,251.20 81.50,251.20 81.75,250.99 82.00,247.39 82.60,183.40 83.00,232.35 83.25,248.89 83.50,251.10 83.75,251.20 91.00,251.20 91.50,251.13 91.75,250.58 92.25,245.46 92.40,244.70 92.50,245.05 93.00,250.32 93.25,251.08 93.75,251.20 216.75,251.20 217.00,251.18 217.25,250.93 217.50,249.65 218.00,245.00 218.50,249.65 218.75,250.93 219.00,251.18 219.25,251.20 297.25,251.20 297.50,251.16 297.75,250.87 298.25,248.11 298.40,247.70 298.50,247.89 299.00,250.73 299.25,251.14 299.50,251.20 320.50,251.19 320.75,251.08 321.40,249.90 322.00,251.02 322.25,251.18 322.50,251.20 341.00,251.20"/>
<path d="M92.3,85 V108 M96.3,46 V108 M83.4,186 L92.2,229 M96.3,165 V226 L92.8,244 M223.4,37 V222 L218.2,244 M301,30 V226 L298.6,247" stroke="#8a8a8a" stroke-width="0.7" stroke-dasharray="1.4 1.2" fill="none"/>
</g>
<text x="-0.6" y="8.8" font-size="12.5" text-anchor="start" font-weight="bold" stroke="#000" stroke-width="0.55">a</text>
<text x="38.5" y="32.1" font-size="10.8" text-anchor="end" >0.10</text>
<text x="38.5" y="76.7" font-size="10.8" text-anchor="end" >0.08</text>
<text x="38.5" y="121.3" font-size="10.8" text-anchor="end" >0.06</text>
<text x="38.5" y="165.8" font-size="10.8" text-anchor="end" >0.04</text>
<text x="38.5" y="210.4" font-size="10.8" text-anchor="end" >0.02</text>
<text x="38.5" y="255.0" font-size="10.8" text-anchor="end" >0</text>
<text x="103.6" y="277.0" font-size="10.8" text-anchor="middle" >2,000</text>
<text x="176.2" y="277.0" font-size="10.8" text-anchor="middle" >1,500</text>
<text x="248.8" y="277.0" font-size="10.8" text-anchor="middle" >1,000</text>
<text x="321.4" y="277.0" font-size="10.8" text-anchor="middle" >500</text>
<text x="174.4" y="295.0" font-size="10.5" text-anchor="start" ><tspan font-style="italic">v</tspan> (cm<tspan font-size="7.3" baseline-shift="4.2">&#8722;1</tspan>)</text>
<text transform="translate(8.9,134.5) rotate(-90)" font-size="10.8" font-style="italic" text-anchor="middle">&#916;A</text>
<text x="166.9" y="22.3" font-size="10.8" text-anchor="start" >Br<tspan font-size="7.8" baseline-shift="-3.1">2</tspan> + AgN<tspan font-size="7.8" baseline-shift="-3.1">3</tspan></text>
<text x="167.0" y="99.0" font-size="10.8" text-anchor="start" >Cl<tspan font-size="7.8" baseline-shift="-3.1">2</tspan> + AgN<tspan font-size="7.8" baseline-shift="-3.1">3</tspan></text>
<text x="267.0" y="92.9" font-size="10.8" text-anchor="start" >ClN</text>
<text x="278.0" y="126.4" font-size="10.8" text-anchor="start" >ClN<tspan font-size="7.8" baseline-shift="-3.1">3</tspan></text>
<text x="229.0" y="143.1" font-size="10.8" text-anchor="start" >ClN<tspan font-size="7.8" baseline-shift="-3.1">3</tspan></text>
<text x="101.5" y="183.7" font-size="10.8" text-anchor="start" >ClN<tspan font-size="7.8" baseline-shift="-3.1">3</tspan></text>
<path d="M82.60,17.30 L81.90,24.60 M84.70,17.30 L84.00,24.60 M80.65,19.93 H85.95 M80.65,21.97 H85.95" stroke="#1a1a1a" stroke-width="0.95" fill="none"/>
<path d="M82.60,32.70 L81.90,40.00 M84.70,32.70 L84.00,40.00 M80.65,35.33 H85.95 M80.65,37.37 H85.95" stroke="#1a1a1a" stroke-width="0.95" fill="none"/>
<path d="M82.40,94.00 L81.70,101.30 M84.50,94.00 L83.80,101.30 M80.45,96.63 H85.75 M80.45,98.67 H85.75" stroke="#1a1a1a" stroke-width="0.95" fill="none"/>
<path d="M82.40,114.00 L81.70,121.30 M84.50,114.00 L83.80,121.30 M80.45,116.63 H85.75 M80.45,118.67 H85.75" stroke="#1a1a1a" stroke-width="0.95" fill="none"/>
<text x="161.3" y="28.6" font-size="10.5" text-anchor="middle" font-weight="bold">*</text>
<text x="158.2" y="100.2" font-size="10.5" text-anchor="middle" font-weight="bold">*</text>
<line x1="230.8" y1="133.5" x2="229.6" y2="129.8" stroke="#111" stroke-width="0.8"/><path d="M228.3,125.6 L231.5,129.2 L227.7,130.4 Z" fill="#111"/>
<line x1="100.2" y1="175.0" x2="98.0" y2="171.2" stroke="#111" stroke-width="0.8"/><path d="M95.8,167.4 L99.7,170.2 L96.3,172.2 Z" fill="#111"/>
<text x="60.0" y="243.6" font-size="10.8" text-anchor="start" ><tspan font-family="Liberation Serif" font-size="12">&#957;</tspan><tspan font-size="7.8" baseline-shift="-3.1">11</tspan></text>
<text x="98.6" y="243.6" font-size="10.8" text-anchor="start" ><tspan font-family="Liberation Serif" font-size="12">&#957;</tspan><tspan font-size="7.8" baseline-shift="-3.1">8</tspan> + <tspan font-family="Liberation Serif" font-size="12">&#957;</tspan><tspan font-size="7.8" baseline-shift="-3.1">9</tspan></text>
<text x="225.0" y="244.6" font-size="10.8" text-anchor="start" ><tspan font-family="Liberation Serif" font-size="12">&#957;</tspan><tspan font-size="7.8" baseline-shift="-3.1">9</tspan></text>
<text x="303.6" y="244.6" font-size="10.8" text-anchor="start" ><tspan font-family="Liberation Serif" font-size="12">&#957;</tspan><tspan font-size="7.8" baseline-shift="-3.1">7</tspan></text>
<defs><radialGradient id="ball" cx="0.6" cy="0.38" r="0.75"><stop offset="0" stop-color="#5068ff"/><stop offset="0.45" stop-color="#2c42f2"/><stop offset="1" stop-color="#2030d0"/></radialGradient></defs>
<polyline fill="none" stroke="#2b45ee" stroke-width="2.3" points="110.6,209.0 131.4,214.4 153.6,223.6 171.1,201.1 193.4,210.0 214.0,215.4"/>
<circle cx="110.6" cy="209.0" r="5.2" fill="url(#ball)"/>
<circle cx="131.4" cy="214.4" r="5.2" fill="url(#ball)"/>
<circle cx="153.6" cy="223.6" r="5.2" fill="url(#ball)"/>
<circle cx="171.1" cy="201.1" r="5.2" fill="url(#ball)"/>
<circle cx="193.4" cy="210.0" r="5.2" fill="url(#ball)"/>
<circle cx="214.0" cy="215.4" r="5.2" fill="url(#ball)"/>
<text x="104.4" y="202.0" font-size="10.8" text-anchor="start" >N1</text>
<text x="126.0" y="207.0" font-size="10.8" text-anchor="start" >N2</text>
<text x="145.0" y="216.0" font-size="10.8" text-anchor="start" >N3</text>
<text x="168.0" y="216.6" font-size="10.8" text-anchor="start" >N4</text>
<text x="187.0" y="225.0" font-size="10.8" text-anchor="start" >N5</text>
<text x="207.6" y="230.0" font-size="10.8" text-anchor="start" >N6</text>
<text x="141.6" y="243.0" font-size="10.8" text-anchor="start" ><tspan font-style="italic">C</tspan><tspan font-size="7.8" baseline-shift="-3.1">2h</tspan>-N<tspan font-size="7.8" baseline-shift="-3.1">6</tspan></text>
<path d="M410.5,5 V261.5 H685 M408.8,5.5 H410.5" fill="none" stroke="#848484" stroke-width="1"/>
<line x1="407.5" x2="410.5" y1="32.5" y2="32.5" stroke="#848484" stroke-width="1"/>
<text x="404.6" y="36.8" font-size="10.8" text-anchor="end" >0.010</text>
<line x1="407.5" x2="410.5" y1="90.5" y2="90.5" stroke="#848484" stroke-width="1"/>
<text x="404.6" y="93.9" font-size="10.8" text-anchor="end" >0.008</text>
<line x1="407.5" x2="410.5" y1="147.5" y2="147.5" stroke="#848484" stroke-width="1"/>
<text x="404.6" y="151.0" font-size="10.8" text-anchor="end" >0.006</text>
<line x1="407.5" x2="410.5" y1="204.5" y2="204.5" stroke="#848484" stroke-width="1"/>
<text x="404.6" y="208.1" font-size="10.8" text-anchor="end" >0.004</text>
<line x1="407.5" x2="410.5" y1="261.5" y2="261.5" stroke="#848484" stroke-width="1"/>
<text x="404.6" y="265.2" font-size="10.8" text-anchor="end" >0.002</text>
<line x1="408.8" x2="410.5" y1="61.5" y2="61.5" stroke="#848484" stroke-width="1"/>
<line x1="408.8" x2="410.5" y1="118.5" y2="118.5" stroke="#848484" stroke-width="1"/>
<line x1="408.8" x2="410.5" y1="175.5" y2="175.5" stroke="#848484" stroke-width="1"/>
<line x1="408.8" x2="410.5" y1="232.5" y2="232.5" stroke="#848484" stroke-width="1"/>
<line x1="479.5" x2="479.5" y1="261.5" y2="264.5" stroke="#848484" stroke-width="1"/>
<text x="479.0" y="277.0" font-size="10.8" text-anchor="middle" >2,000</text>
<line x1="564.5" x2="564.5" y1="261.5" y2="264.5" stroke="#848484" stroke-width="1"/>
<text x="564.6" y="277.0" font-size="10.8" text-anchor="middle" >1,500</text>
<line x1="650.5" x2="650.5" y1="261.5" y2="264.5" stroke="#848484" stroke-width="1"/>
<text x="650.3" y="277.0" font-size="10.8" text-anchor="middle" >1,000</text>
<line x1="436.5" x2="436.5" y1="261.5" y2="263.5" stroke="#848484" stroke-width="1"/>
<line x1="521.5" x2="521.5" y1="261.5" y2="263.5" stroke="#848484" stroke-width="1"/>
<line x1="607.5" x2="607.5" y1="261.5" y2="263.5" stroke="#848484" stroke-width="1"/>
<text x="529.1" y="295.2" font-size="10.5" text-anchor="start" ><tspan font-style="italic">v</tspan> (cm<tspan font-size="7.3" baseline-shift="4.2">&#8722;1</tspan>)</text>
<text transform="translate(368.2,133.4) rotate(-90)" font-size="10.8" font-style="italic" text-anchor="middle">&#916;A</text>
<text x="359.8" y="8.8" font-size="12.5" text-anchor="start" font-weight="bold" stroke="#000" stroke-width="0.55">b</text>
<polyline fill="none" stroke="#111" stroke-width="0.95" stroke-linejoin="round"  points="410.00,42.99 410.15,43.36 410.30,37.99 410.45,44.86 410.60,40.94 410.75,42.13 410.90,42.38 411.05,38.85 411.20,46.59 411.35,44.17 411.50,37.89 411.65,43.57 411.80,39.53 411.95,42.27 412.10,46.64 412.25,47.09 412.40,44.48 412.55,45.34 412.70,38.16 412.85,40.67 413.00,41.39 413.15,40.33 413.45,43.01 413.75,47.07 413.90,47.73 414.05,38.78 414.20,47.42 414.50,39.27 414.65,43.17 414.80,39.54 414.95,47.64 415.25,40.07 415.40,44.06 415.55,37.39 415.70,37.39 415.85,40.46 416.00,47.47 416.15,45.50 416.30,39.52 416.45,39.21 416.60,41.64 416.75,38.51 416.90,44.60 417.05,45.18 417.20,40.88 417.35,42.32 417.50,43.21 417.65,42.94 417.80,42.28 417.95,43.57 418.10,40.84 418.25,42.49 418.40,38.95 418.55,42.62 418.70,42.84 418.85,37.33 419.00,41.71 419.15,40.47 419.30,44.62 419.45,39.19 419.60,47.03 419.75,41.73 419.90,40.84 420.05,40.78 420.20,42.58 420.35,41.13 420.50,36.78 420.65,43.38 420.80,40.03 420.95,38.97 421.10,41.34 421.25,37.42 421.40,40.61 421.55,40.99 421.70,38.05 421.85,42.57 422.15,39.07 422.30,39.49 422.45,45.12 422.60,39.99 422.75,42.93 422.90,39.69 423.05,39.98 423.20,38.82 423.35,40.72 423.50,40.64 423.65,35.25 423.80,44.04 423.95,46.39 424.10,44.02 424.25,36.26 424.40,44.67 424.55,41.20 424.85,38.13 425.00,39.52 425.15,35.95 425.30,44.18 425.45,47.65 425.60,41.60 425.75,42.32 425.90,39.41 426.05,40.94 426.20,43.48 426.35,38.89 426.50,42.91 426.65,42.37 426.80,38.54 426.95,42.52 427.10,42.33 427.25,45.69 427.40,35.05 427.55,44.25 427.70,38.82 427.85,40.45 428.00,40.06 428.15,34.83 428.30,37.76 428.45,37.34 428.60,46.23 428.75,40.09 428.90,38.84 429.05,40.96 429.20,39.07 429.35,38.83 429.50,40.27 429.65,38.58 429.80,37.76 429.95,40.49 430.10,38.47 430.25,41.05 430.40,38.84 430.55,40.93 430.70,40.83 430.85,37.87 431.00,40.73 431.15,38.93 431.30,41.83 431.45,37.15 431.60,42.41 431.75,38.99 432.05,43.31 432.20,40.88 432.35,39.71 432.50,39.54 432.80,33.95 432.95,36.23 433.10,35.31 433.25,40.94 433.40,40.91 433.55,42.26 433.70,39.95 433.85,33.52 434.00,38.60 434.15,34.18 434.30,43.07 434.45,37.19 434.60,40.41 434.75,36.16 434.90,38.93 435.05,36.99 435.20,37.41 435.35,37.50 435.50,37.99 435.80,34.22 435.95,40.60 436.10,37.97 436.25,38.66 436.40,33.90 436.55,39.25 436.70,37.89 436.85,38.96 437.00,35.98 437.15,38.00 437.30,35.66 437.45,42.24 437.60,38.62 437.75,39.53 437.90,35.68 438.05,34.05 438.20,36.33 438.35,36.14 438.50,38.77 438.65,40.13 438.80,37.54 438.95,39.01 439.10,37.41 439.25,38.18 439.40,35.62 439.55,41.62 439.70,34.85 440.00,41.45 440.15,33.68 440.30,34.87 440.60,40.69 440.90,35.80 441.05,31.80 441.20,38.40 441.35,35.27 441.50,37.31 441.65,35.07 441.80,36.01 441.95,36.62 442.10,34.15 442.25,33.54 442.40,37.04 442.55,38.45 442.70,28.94 443.00,38.62 443.15,36.95 443.30,39.08 443.45,37.39 443.60,38.69 443.75,33.17 443.90,34.68 444.05,37.54 444.20,33.52 444.35,36.96 444.50,38.04 444.65,31.41 444.80,29.25 444.95,36.84 445.25,35.02 445.40,33.42 445.55,36.96 445.70,36.08 445.85,34.13 446.00,35.49 446.15,34.37 446.30,35.33 446.45,35.40 446.60,35.71 446.75,36.41 446.90,36.59 447.15,37.76 447.30,38.16 447.45,38.99 447.60,38.20 447.75,39.19 447.90,35.23 448.20,39.74 448.35,38.54 448.50,39.84 448.65,36.92 448.80,39.26 448.95,38.93 449.10,41.00 449.25,41.84 449.40,39.96 449.55,41.60 449.70,42.59 449.85,46.22 450.00,46.22 450.15,44.63 450.30,48.77 450.45,46.94 450.60,50.34 450.75,49.28 450.90,49.91 451.00,54.71 451.05,52.01 451.20,53.07 451.35,57.63 451.50,58.15 451.65,56.50 451.80,60.62 451.95,57.71 452.10,57.37 452.25,54.22 452.40,56.63 452.55,54.50 452.70,54.80 452.80,53.81 452.85,50.37 453.00,48.56 453.45,40.90 453.75,39.17 453.80,35.72 453.90,37.44 454.05,33.82 454.20,31.63 454.35,31.90 454.60,26.15 454.65,26.49 454.80,26.23 454.95,21.96 455.10,24.90 455.25,19.23 455.30,22.15 455.40,23.44 455.55,20.93 455.70,25.75 455.85,25.10 456.00,27.36 456.15,25.34 456.30,26.11 456.45,27.33 456.60,31.49 456.75,28.60 456.90,31.78 457.05,33.23 457.20,31.08 457.35,31.73 457.65,34.37 457.80,31.40 457.95,34.44 458.25,35.15 458.40,31.47 458.55,35.75 458.70,31.92 459.15,36.22 459.30,33.86 459.45,36.85 459.60,35.41 459.75,34.64 459.90,34.96 460.05,34.13 460.20,34.68 460.35,37.40 460.50,39.03 460.65,35.42 460.80,35.12 460.95,39.66 461.00,37.65 461.25,37.04 461.55,40.65 461.70,39.40 461.85,39.69 462.00,40.23 462.60,50.20 463.50,94.96 464.20,120.30 464.80,150.14 465.60,179.29 466.20,159.71 466.80,130.66 467.50,110.30 468.00,98.89 468.20,95.49 468.45,88.38 468.60,85.80 469.00,74.12 469.05,74.33 469.20,71.55 469.35,70.06 469.50,67.43 469.65,65.82 469.95,61.29 470.00,59.73 470.10,59.66 470.40,58.19 470.55,56.43 470.70,56.42 471.15,53.36 471.75,45.90 471.90,45.61 472.00,44.79 472.05,43.29 472.50,37.75 472.60,35.41 472.65,36.29 472.80,35.28 472.95,34.78 473.10,33.69 473.20,33.62 473.25,33.84 473.40,33.42 473.55,33.40 473.70,31.99 473.85,32.06 474.00,32.39 474.05,37.17 474.20,30.98 474.35,35.28 474.50,34.43 474.65,31.52 474.80,30.10 474.95,35.94 475.10,32.05 475.25,36.17 475.40,33.36 475.55,32.57 475.70,30.83 475.85,36.69 476.00,31.97 476.15,32.21 476.30,32.02 476.45,27.68 476.60,32.53 476.90,36.11 477.05,28.35 477.20,32.64 477.35,31.24 477.50,35.91 477.65,33.23 477.80,32.43 477.95,36.30 478.10,29.71 478.25,27.94 478.40,34.01 478.55,31.13 478.70,38.41 478.85,31.74 479.00,30.39 479.15,34.76 479.30,30.88 479.45,30.09 479.60,33.51 479.75,33.37 479.90,27.98 480.05,34.61 480.20,31.02 480.35,31.02 480.50,29.87 480.65,34.56 480.80,34.28 480.95,34.73 481.10,33.44 481.25,29.87 481.40,29.37 481.55,33.82 481.70,28.26 481.85,32.61 482.00,30.10 482.15,34.63 482.30,30.21 482.45,30.18 482.60,34.24 482.75,30.50 482.90,38.92 483.05,28.57 483.20,34.39 483.35,33.10 483.50,29.58 483.65,33.32 483.80,32.62 483.95,32.22 484.10,32.19 484.25,29.43 484.40,34.23 484.55,29.23 484.70,36.66 484.85,30.77 485.00,29.66 485.15,30.71 485.30,28.64 485.45,33.85 485.60,36.16 485.90,28.41 486.05,31.61 486.20,32.42 486.35,31.93 486.50,30.95 486.65,32.40 486.80,37.87 486.95,34.75 487.10,34.31 487.25,29.90 487.40,33.04 487.55,32.58 487.70,34.23 487.85,31.70 488.00,33.74 488.15,32.19 488.30,32.40 488.45,31.40 488.60,34.16 488.75,33.60 488.90,34.24 489.05,30.28 489.20,33.72 489.35,33.63 489.50,30.54 489.65,31.75 489.80,31.05 489.95,34.93 490.10,29.85 490.25,30.98 490.40,28.51 490.55,30.65 490.70,29.12 490.85,33.69 491.00,32.71 491.15,34.35 491.30,30.61 491.45,28.12 491.75,33.33 491.90,29.68 492.05,32.10 492.20,28.78 492.50,28.43 492.65,30.54 492.80,30.73 492.95,32.43 493.10,28.94 493.25,33.62 493.40,30.65 493.55,35.15 493.70,28.35 493.85,30.45 494.00,33.63 494.15,30.37 494.30,32.74 494.45,30.16 494.75,32.90 495.05,29.21 495.20,32.40 495.35,29.41 495.50,32.71 495.65,28.92 495.80,32.49 496.10,29.11 496.25,33.85 496.40,32.34 496.55,27.99 496.70,29.26 496.85,32.11 497.00,31.83 497.15,24.89 497.30,28.68 497.45,28.44 497.75,31.81 497.90,26.15 498.05,29.36 498.20,28.61 498.35,30.86 498.50,27.82 498.65,29.50 498.95,27.28 499.10,30.64 499.25,30.96 499.40,29.84 499.55,30.26 499.70,27.27 499.85,32.63 500.00,29.91 500.15,31.55 500.30,27.09 500.45,33.66 500.60,32.03 500.75,27.80 500.90,28.07 501.05,30.17 501.20,29.58 501.35,29.24 501.50,31.30 501.65,29.38 501.80,31.08 501.95,27.31 502.10,29.85 502.25,31.41 502.40,29.74 502.55,34.00 502.70,27.57 502.85,30.28 503.00,28.07 503.15,29.69 503.30,30.35 503.45,28.74 503.75,30.47 503.90,28.76 504.05,28.82 504.20,27.26 504.35,29.19 504.50,29.30 504.65,27.21 504.80,31.44 505.10,27.01 505.25,28.28 505.40,23.96 505.55,28.90 505.70,27.99 505.85,24.89 506.00,29.26 506.15,27.76 506.30,33.19 506.45,32.64 506.75,26.80 506.90,31.60 507.05,30.50 507.20,30.00 507.35,29.18 507.50,31.04 507.65,29.15 507.80,28.49 507.95,27.02 508.10,29.54 508.25,26.75 508.40,29.80 508.55,30.40 508.70,31.40 508.85,31.01 509.00,26.69 509.15,30.31 509.30,24.94 509.45,31.51 509.75,26.00 509.90,29.88 510.05,26.10 510.20,29.68 510.35,25.96 510.65,28.19 510.80,31.71 510.95,27.15 511.10,24.94 511.25,30.27 511.40,26.87 511.55,28.42 511.70,23.86 511.85,28.41 512.00,28.93 512.15,27.94 512.30,29.21 512.45,28.16 512.60,29.09 512.75,28.60 512.90,29.81 513.20,27.20 513.35,28.10 513.50,28.49 513.65,30.60 513.80,31.79 514.10,27.56 514.40,32.08 514.55,30.55 514.85,25.40 515.00,32.58 515.15,30.03 515.30,28.76 515.45,28.91 515.75,31.23 515.90,33.67 516.05,31.11 516.35,29.26 516.65,32.73 516.80,32.75 516.95,28.24 517.10,30.69 517.25,30.52 517.40,26.89 517.55,30.62 517.70,23.75 517.85,31.48 518.00,29.52 518.15,31.15 518.30,30.48 518.45,26.64 518.60,31.95 518.75,30.61 518.90,30.05 519.05,32.91 519.20,30.52 519.50,29.56 519.65,31.50 519.80,29.32 519.95,29.33 520.10,29.56 520.25,31.73 520.40,30.72 520.55,32.58 520.70,29.87 520.85,29.01 521.00,29.70 521.30,33.71 521.45,33.08 521.60,30.80 521.75,31.17 521.90,31.00 522.05,33.83 522.20,26.84 522.35,34.78 522.50,36.62 522.65,33.53 522.80,28.14 522.95,34.66 523.10,34.15 523.25,31.03 523.40,30.42 523.55,31.39 523.70,31.88 523.85,28.33 524.00,35.02 524.30,28.93 524.45,34.79 524.60,30.85 524.75,28.24 524.90,29.95 525.05,30.96 525.20,33.08 525.35,32.81 525.65,36.91 525.80,28.62 525.95,31.19 526.25,39.70 526.40,30.91 526.55,31.21 526.70,32.38 526.85,42.73 527.00,44.85 527.15,41.14 527.30,38.72 527.45,33.24 527.60,34.54 527.75,31.31 527.90,30.76 528.05,32.09 528.20,32.67 528.35,32.66 528.50,33.25 528.65,32.60 528.80,35.58 528.95,35.56 529.10,31.73 529.25,36.14 529.40,33.40 529.55,36.23 529.85,31.32 530.00,34.17 530.15,34.02 530.45,37.21 530.60,36.53 530.75,36.11 530.90,31.81 531.05,36.38 531.20,38.13 531.35,27.21 531.50,32.01 531.65,33.89 531.80,37.34 531.95,37.22 532.10,34.88 532.25,36.76 532.40,32.03 532.55,32.94 532.70,32.63 532.85,42.52 533.00,43.50 533.15,36.67 533.30,39.81 533.45,37.84 533.60,29.71 533.75,34.70 533.90,29.95 534.20,33.95 534.35,35.52 534.50,35.88 534.65,38.11 534.80,32.93 534.95,36.93 535.10,33.88 535.25,35.73 535.40,33.54 535.55,37.16 535.70,31.42 535.85,36.57 536.00,30.31 536.30,23.68 536.45,28.41 536.60,26.98 536.75,31.08 537.05,33.72 537.20,31.30 537.35,32.57 537.50,30.37 537.65,34.31 537.80,31.69 537.95,32.47 538.10,35.14 538.25,32.75 538.40,37.44 538.55,35.09 538.85,36.43 539.15,31.99 539.30,32.92 539.45,35.49 539.60,34.73 539.75,34.94 539.90,32.15 540.05,33.95 540.20,33.86 540.35,32.01 540.50,32.35 540.65,35.60 540.80,36.07 540.95,30.43 541.10,32.11 541.25,29.10 541.55,38.02 541.70,32.74 541.85,36.06 542.15,39.18 542.30,36.05 542.45,31.15 542.60,32.63 542.75,36.69 542.90,36.37 543.05,37.17 543.20,36.78 543.35,30.35 543.50,34.14 543.80,37.34 543.95,38.09 544.10,35.01 544.25,38.11 544.40,34.10 544.70,29.99 544.85,34.85 545.00,35.42 545.15,37.80 545.30,35.92 545.45,38.92 545.60,37.08 545.75,40.05 545.90,34.09 546.05,36.12 546.35,37.21 546.50,34.10 546.65,37.91 546.80,35.71 546.95,36.23 547.10,34.11 547.25,41.59 547.40,33.24 547.55,36.87 547.70,37.04 547.85,36.86 548.00,34.81 548.15,35.29 548.30,38.14 548.45,29.43 548.60,38.36 548.75,36.51 548.90,31.05 549.05,37.00 549.35,32.08 549.50,34.40 549.65,40.76 549.80,37.44 549.95,36.08 550.10,38.12 550.25,38.60 550.40,37.94 550.55,36.45 550.70,33.44 550.85,38.43 551.00,34.28 551.30,35.21 551.45,39.06 551.60,34.77 551.75,32.43 551.90,38.47 552.05,35.43 552.20,39.62 552.35,37.16 552.50,35.87 552.65,44.00 552.80,34.66 552.95,38.27 553.10,34.56 553.25,33.26 553.55,39.82 553.70,38.37 553.85,35.01 554.00,37.93 554.30,33.74 554.45,34.32 554.60,39.13 554.75,34.77 554.90,37.75 555.05,39.21 555.20,39.04 555.35,40.00 555.50,34.14 555.65,37.43 555.80,34.28 555.95,40.34 556.10,39.89 556.25,38.71 556.40,36.98 556.55,33.50 556.70,34.80 556.85,33.97 557.15,40.11 557.30,38.66 557.45,33.47 557.75,46.80 557.90,48.49 558.00,47.25 558.05,50.03 558.20,47.78 558.50,39.34 558.65,40.60 558.80,36.83 558.95,37.51 559.10,37.75 559.25,32.77 559.40,32.40 559.55,33.85 559.70,33.93 559.85,40.07 560.15,37.23 560.30,33.54 560.45,35.26 560.60,36.36 560.75,35.34 560.90,35.58 561.05,33.30 561.20,31.84 561.35,39.31 561.50,37.37 561.65,38.99 561.80,36.01 561.95,31.40 562.10,34.88 562.25,35.30 562.40,39.00 562.55,30.67 562.70,35.45 562.85,26.17 563.00,36.93 563.30,33.36 563.45,34.29 563.60,34.40 563.75,31.84 564.05,37.50 564.20,36.45 564.35,31.19 564.50,31.12 564.65,35.52 564.80,37.10 564.95,31.03 565.10,33.31 565.25,31.26 565.40,34.07 565.55,34.90 565.70,33.67 565.85,30.32 566.00,33.13 566.15,31.71 566.30,37.45 566.45,29.88 566.60,31.38 566.75,30.81 566.90,29.46 567.05,33.70 567.20,33.51 567.35,37.22 567.50,33.74 567.65,33.27 567.80,33.25 567.95,33.83 568.10,33.55 568.25,24.79 568.40,35.08 568.55,34.02 568.70,29.48 568.85,27.08 569.00,29.98 569.15,38.26 569.30,31.27 569.45,33.34 569.60,29.18 569.75,33.84 569.90,30.57 570.05,31.90 570.20,34.25 570.50,28.95 570.65,33.51 570.80,33.82 570.95,30.17 571.10,29.02 571.25,30.81 571.40,29.42 571.55,33.58 571.70,31.64 571.85,31.49 572.00,30.64 572.15,33.16 572.30,31.85 572.45,33.66 572.60,29.18 572.75,34.45 572.90,28.77 573.05,25.58 573.20,33.99 573.50,33.12 573.65,28.04 573.80,35.26 573.95,30.65 574.10,28.22 574.25,32.55 574.40,33.84 574.55,34.41 574.70,27.75 574.85,31.56 575.00,31.15 575.15,28.91 575.30,28.57 575.45,33.53 575.60,31.70 575.75,28.52 575.90,32.60 576.05,33.04 576.20,32.93 576.35,30.18 576.50,28.39 576.65,29.66 576.80,28.74 576.95,29.35 577.10,26.20 577.25,32.49 577.55,24.05 577.70,27.39 577.85,32.42 578.15,25.99 578.30,31.17 578.45,30.33 578.60,30.75 578.75,29.64 578.90,30.83 579.05,25.63 579.20,29.30 579.35,28.65 579.50,27.54 579.65,27.59 579.80,27.40 580.10,29.09 580.25,32.71 580.40,34.23 580.55,28.97 580.70,28.59 580.85,28.35 581.00,31.60 581.15,29.59 581.30,30.84 581.45,25.42 581.75,33.00 581.90,28.78 582.05,29.93 582.20,29.59 582.50,31.97 582.65,29.19 582.80,29.94 582.95,29.17 583.10,30.10 583.25,37.60 583.40,27.12 583.55,28.83 583.70,31.47 583.85,30.61 584.00,31.67 584.15,29.70 584.30,28.48 584.45,31.60 584.60,30.90 584.75,28.95 584.90,32.82 585.05,29.06 585.20,31.07 585.50,29.30 585.65,31.63 585.80,31.60 585.95,33.96 586.10,25.22 586.40,33.43 586.55,35.80 586.70,36.02 586.85,32.33 587.00,34.89 587.15,29.37 587.30,31.64 587.45,30.51 587.60,34.91 587.90,28.43 588.05,27.78 588.20,33.55 588.35,29.71 588.50,31.38 588.65,27.61 588.80,30.95 588.95,33.12 589.10,31.17 589.25,31.55 589.40,30.32 589.55,28.01 589.70,33.93 589.85,32.00 590.00,32.77 590.15,31.37 590.45,22.98 590.50,23.42 590.60,23.72 590.75,29.36 590.90,27.61 591.05,36.15 591.20,30.09 591.35,39.38 591.65,28.21 591.95,32.09 592.10,29.76 592.25,34.03 592.40,29.30 592.55,30.60 592.70,35.95 592.85,34.55 593.00,31.38 593.15,37.70 593.30,37.20 593.45,34.72 593.60,30.97 593.75,30.98 593.90,30.75 594.05,30.77 594.20,29.70 594.50,34.81 594.65,30.69 594.80,34.74 594.95,33.74 595.10,27.21 595.40,31.24 595.55,30.22 595.70,30.71 595.85,31.78 596.00,31.36 596.15,31.47 596.30,34.30 596.45,35.27 596.60,34.48 596.75,32.75 596.90,29.80 597.05,35.96 597.20,32.37 597.35,30.00 597.50,35.31 597.65,32.98 597.80,33.83 597.95,30.76 598.10,36.62 598.25,31.36 598.40,35.48 598.55,33.90 598.70,30.58 598.85,33.73 599.00,27.82 599.30,33.80 599.45,32.93 599.60,31.52 599.75,31.81 599.90,33.44 600.05,30.00 600.20,37.70 600.35,32.44 600.50,29.81 600.65,32.84 600.80,27.28 600.95,29.87 601.10,38.12 601.25,30.28 601.40,38.76 601.55,33.63 601.70,34.75 601.85,36.90 602.00,35.11 602.15,34.12 602.30,30.15 602.45,31.61 602.60,35.54 602.75,28.07 603.05,40.97 603.35,24.11 603.50,30.16 603.65,30.38 603.80,36.91 603.95,26.69 604.10,36.55 604.25,37.42 604.40,34.17 604.55,33.28 604.85,29.31 605.00,35.64 605.15,36.51 605.30,32.80 605.45,30.41 605.60,33.05 605.75,29.43 605.90,27.60 606.05,29.09 606.20,30.02 606.35,29.93 606.50,32.06 606.65,35.47 606.80,32.94 606.95,39.25 607.10,27.01 607.25,36.38 607.40,31.15 607.55,31.07 607.70,28.72 607.85,29.83 608.00,35.41 608.30,29.91 608.45,33.91 608.60,28.43 608.75,32.99 608.90,32.84 609.05,26.74 609.20,32.73 609.35,32.61 609.50,32.00 609.65,39.30 609.80,27.13 609.95,36.50 610.10,29.81 610.25,36.61 610.40,32.51 610.55,36.04 610.70,36.96 610.85,34.48 611.00,30.58 611.15,30.36 611.30,29.57 611.45,36.21 611.60,37.22 611.75,32.75 611.90,35.39 612.05,33.26 612.20,35.84 612.35,29.33 612.50,36.21 612.65,34.22 612.95,28.12 613.10,33.99 613.25,35.34 613.40,30.50 613.55,36.74 613.70,34.17 613.85,35.38 614.00,30.59 614.15,36.37 614.30,36.79 614.45,34.19 614.75,35.30 614.90,34.36 615.05,35.76 615.20,40.67 615.50,34.74 615.65,37.70 615.80,33.37 615.95,33.25 616.25,34.71 616.40,41.68 616.55,33.73 616.70,39.62 616.85,35.57 617.00,39.18 617.30,32.10 617.45,43.18 617.60,30.24 617.75,42.18 618.05,36.78 618.20,37.48 618.35,40.51 618.50,45.68 618.65,42.43 618.80,41.82 618.95,37.53 619.10,41.62 619.25,37.38 619.70,47.16 619.85,42.07 620.00,45.98 620.15,42.44 620.30,48.05 620.45,45.18 620.60,45.73 620.90,55.74 621.05,55.14 621.20,55.13 621.35,45.25 621.50,47.33 621.65,54.11 621.80,53.56 622.10,42.12 622.25,43.78 622.40,40.98 622.55,41.79 622.70,37.32 622.85,36.82 623.00,30.57 623.15,31.83 623.30,38.89 623.45,36.71 623.60,43.16 623.75,32.64 623.90,32.63 624.05,31.20 624.20,37.11 624.35,31.80 624.50,30.31 624.65,37.84 624.95,32.81 625.10,39.29 625.25,31.13 625.40,35.96 625.55,38.96 625.70,31.25 625.85,36.49 626.00,30.69 626.15,35.10 626.30,37.89 626.45,29.49 626.60,35.88 626.75,34.34 626.90,34.29 627.05,30.76 627.20,39.29 627.35,30.32 627.50,30.22 627.80,33.13 627.95,32.91 628.10,31.47 628.25,39.35 628.40,42.34 628.55,36.56 628.70,39.23 628.85,37.16 629.00,29.03 629.15,38.04 629.45,30.34 629.60,38.19 629.75,36.75 629.90,26.91 630.05,42.86 630.20,41.33 630.35,36.05 630.50,37.90 630.65,33.43 630.80,31.81 630.95,39.19 631.10,38.65 631.25,32.53 631.40,32.87 631.55,32.80 631.70,36.82 632.00,40.58 632.15,33.94 632.30,39.93 632.45,36.82 632.60,30.66 632.75,36.86 632.90,31.62 633.05,37.13 633.20,32.60 633.35,34.96 633.50,30.52 633.65,37.15 633.80,30.03 633.95,31.86 634.25,29.18 634.40,30.03 634.55,35.16 634.70,37.92 634.85,30.36 635.00,28.01 635.30,36.62 635.45,32.46 635.60,35.98 635.75,28.35 635.90,37.64 636.05,28.63 636.20,41.09 636.35,31.85 636.50,33.36 636.65,43.51 636.80,29.27 636.95,31.91 637.10,39.10 637.25,34.75 637.40,34.96 637.55,37.41 637.70,38.92 637.85,41.57 638.00,29.14 638.15,38.66 638.30,35.78 638.45,38.50 638.75,27.60 638.90,34.18 639.05,30.80 639.20,37.92 639.35,42.65 639.50,27.27 639.65,34.43 639.80,38.07 639.95,38.06 640.10,30.74 640.25,34.45 640.40,29.63 640.55,32.01 640.70,38.16 640.85,33.36 641.00,37.91 641.15,30.58 641.30,42.49 641.45,35.50 641.60,35.37 641.75,31.17 641.90,39.37 642.05,29.08 642.20,29.27 642.50,35.64 642.65,35.78 642.80,26.50 642.95,32.41 643.10,43.97 643.25,39.05 643.40,30.72 643.55,38.91 643.70,35.07 643.85,28.34 644.00,35.23 644.15,37.19 644.30,34.70 644.45,30.47 644.60,43.76 644.75,33.98 644.90,34.46 645.20,30.90 645.35,36.83 645.50,33.31 645.65,38.69 645.95,19.91 646.10,35.13 646.25,30.55 646.40,32.50 646.55,30.87 646.70,35.26 646.85,30.65 647.00,43.04 647.30,37.55 647.45,33.87 647.60,31.72 647.75,40.00 647.90,26.21 648.05,35.41 648.20,29.77 648.35,31.57 648.50,30.77 648.65,34.09 648.80,43.02 648.95,32.04 649.10,32.17 649.25,29.12 649.40,40.17 649.55,29.89 649.70,25.82 649.85,37.26 650.00,33.59 650.15,38.80 650.30,29.91 650.45,40.04 650.60,29.73 650.75,30.52 650.90,38.32 651.05,34.05 651.20,46.97 651.35,25.60 651.50,36.96 651.65,40.93 651.80,40.92 651.95,29.84 652.10,36.33 652.25,38.89 652.40,37.77 652.55,40.59 652.70,38.90 652.85,40.11 653.00,31.40 653.15,38.49 653.45,29.77 653.75,38.69 653.90,36.96 654.05,39.23 654.20,29.29 654.35,41.98 654.50,38.02 654.65,36.63 654.80,37.11 654.95,33.55 655.10,37.98 655.25,30.62 655.40,31.88 655.55,31.97 655.70,39.34 655.85,29.53 656.15,42.08 656.30,43.09 656.45,38.93 656.60,36.93 656.75,36.60 656.90,39.60 657.05,35.89 657.20,41.98 657.35,33.41 657.50,41.23 657.65,39.68 657.80,34.24 658.10,36.88 658.25,35.42 658.40,39.58 658.55,33.24 658.70,32.95 658.85,41.33 659.00,34.08 659.15,35.23 659.30,31.45 659.45,36.20 659.75,28.77 659.90,31.49 660.05,20.86 660.20,34.59 660.35,38.54 660.65,27.16 660.80,39.27 660.95,29.45 661.10,39.43 661.25,34.07 661.40,40.19 661.55,30.93 661.70,36.89 661.85,34.14 662.00,29.21 662.15,29.14 662.30,17.59 662.45,36.52 662.60,36.00 662.75,41.57 662.90,33.03 663.05,34.74 663.20,39.84 663.50,31.39 663.65,41.15 663.80,34.41 663.95,41.11 664.10,33.64 664.25,32.15 664.40,35.50 664.55,31.76 664.70,25.88 664.85,23.78 665.00,35.21 665.15,41.06 665.30,27.62 665.45,40.76 665.75,28.27 665.90,39.24 666.05,32.71 666.20,33.22 666.35,36.55 666.50,32.76 666.65,37.22 666.80,23.34 666.95,38.38 667.10,29.94 667.25,26.86 667.55,32.19 667.70,31.94 667.85,34.65 668.00,39.87 668.15,29.72 668.30,31.57 668.45,36.54 668.60,37.26 668.75,30.80 668.90,33.11 669.05,28.62 669.20,32.36 669.35,39.71 669.50,34.72 669.65,38.20 669.80,40.26 669.95,28.00 670.10,33.79 670.25,29.81 670.40,11.78 670.55,12.11 670.60,5.13 670.70,15.82 671.00,35.63 671.30,42.78 671.45,27.97 671.60,40.69 671.75,29.24 672.05,41.43 672.20,33.53 672.35,37.58 672.50,38.61 672.65,46.28 672.80,37.48 672.95,35.44 673.10,31.44 673.25,34.10 673.40,28.96 673.55,28.48 673.85,39.09 674.00,39.02 674.15,29.80 674.30,32.63 674.45,20.48 674.60,38.93 674.75,28.61 674.90,34.47 675.05,31.07 675.20,31.86 675.35,35.10 675.50,30.45 675.65,50.25 675.80,35.44 675.95,27.87 676.10,41.61 676.25,34.33 676.40,22.87 676.70,43.02 676.85,41.98 677.15,32.03 677.30,34.59 677.45,33.60 677.60,24.22 677.75,26.12 677.90,33.58 678.05,34.66 678.20,30.78 678.35,30.36 678.50,39.80 678.65,39.92 678.80,27.59 678.95,40.81 679.10,42.18 679.25,33.26 679.40,43.79 679.55,34.75 679.70,31.02 679.85,51.49 680.00,29.56 680.15,34.25 680.30,33.21 680.45,39.41 680.60,42.89 680.75,34.63 680.90,34.05 681.05,29.68 681.50,51.62 681.65,50.31 681.80,71.40 681.95,57.19 682.00,44.93 682.10,40.76 682.25,61.99 682.55,44.51 682.70,42.21 683.00,51.68 683.15,44.01 683.30,16.75 683.45,29.64 683.60,34.62 683.75,26.88 683.90,34.86 684.05,29.14 684.20,27.38 684.35,42.68 684.50,39.02 684.65,44.46 684.80,23.48 684.95,40.27"/>
<text x="440.8" y="71.5" font-size="10.8" text-anchor="start" >HN<tspan font-size="7.8" baseline-shift="-3.1">3</tspan></text>
<text x="481.0" y="83.6" font-size="10.8" text-anchor="start" >N<tspan font-size="7.8" baseline-shift="-3.1">6</tspan></text>
<line x1="480.5" y1="74.0" x2="474.6" y2="64.3" stroke="#111" stroke-width="0.8"/><path d="M472.3,60.5 L476.3,63.2 L472.9,65.3 Z" fill="#111"/>
<text x="547.9" y="60.8" font-size="10.8" text-anchor="start" >H<tspan font-size="7.8" baseline-shift="-3.1">2</tspan>O</text>
<text x="618.6" y="72.7" font-size="10.8" text-anchor="start" >N<tspan font-size="7.8" baseline-shift="-3.1">6</tspan></text>
<text x="553.9" y="18.1" font-size="10.8" text-anchor="start" >Br<tspan font-size="7.8" baseline-shift="-3.1">2</tspan> + AgN<tspan font-size="7.8" baseline-shift="-3.1">3</tspan></text>
<text x="460.6" y="194.5" font-size="10.8" text-anchor="start" >N<tspan font-size="7.8" baseline-shift="-3.1">6</tspan></text>
<path d="M188.5,316 V572.5 H380.3 M387.4,572.5 H488.2 M495.8,572.5 H537.6" fill="none" stroke="#848484" stroke-width="1"/>
<path d="M377.4,576.5 L383.8,569.2 M383.3,576.5 L389.7,569.2" stroke="#333" stroke-width="0.8"/>
<path d="M485.9,576.5 L492.3,569.2 M491.8,576.5 L498.2,569.2" stroke="#333" stroke-width="0.8"/>
<line x1="185.5" x2="188.5" y1="338.5" y2="338.5" stroke="#848484" stroke-width="1"/>
<text x="181.5" y="342.4" font-size="10.8" text-anchor="end" >0.15</text>
<line x1="185.5" x2="188.5" y1="414.5" y2="414.5" stroke="#848484" stroke-width="1"/>
<text x="181.5" y="417.9" font-size="10.8" text-anchor="end" >0.10</text>
<line x1="185.5" x2="188.5" y1="489.5" y2="489.5" stroke="#848484" stroke-width="1"/>
<text x="181.5" y="493.4" font-size="10.8" text-anchor="end" >0.05</text>
<line x1="185.5" x2="188.5" y1="565.5" y2="565.5" stroke="#848484" stroke-width="1"/>
<text x="181.5" y="568.8" font-size="10.8" text-anchor="end" >0</text>
<line x1="186.8" x2="188.5" y1="376.5" y2="376.5" stroke="#848484" stroke-width="1"/>
<line x1="186.8" x2="188.5" y1="451.5" y2="451.5" stroke="#848484" stroke-width="1"/>
<line x1="186.8" x2="188.5" y1="527.5" y2="527.5" stroke="#848484" stroke-width="1"/>
<line x1="217.5" x2="217.5" y1="572.5" y2="575.5" stroke="#848484" stroke-width="1"/>
<text x="217.4" y="588.0" font-size="10.8" text-anchor="middle" >2,150</text>
<line x1="265.5" x2="265.5" y1="572.5" y2="575.5" stroke="#848484" stroke-width="1"/>
<text x="265.4" y="588.0" font-size="10.8" text-anchor="middle" >2,100</text>
<line x1="313.5" x2="313.5" y1="572.5" y2="575.5" stroke="#848484" stroke-width="1"/>
<text x="313.4" y="588.0" font-size="10.8" text-anchor="middle" >2,050</text>
<line x1="361.5" x2="361.5" y1="572.5" y2="575.5" stroke="#848484" stroke-width="1"/>
<text x="361.4" y="588.0" font-size="10.8" text-anchor="middle" >2,000</text>
<line x1="193.5" x2="193.5" y1="572.5" y2="574.7" stroke="#848484" stroke-width="1"/>
<line x1="241.5" x2="241.5" y1="572.5" y2="574.7" stroke="#848484" stroke-width="1"/>
<line x1="289.5" x2="289.5" y1="572.5" y2="574.7" stroke="#848484" stroke-width="1"/>
<line x1="337.5" x2="337.5" y1="572.5" y2="574.7" stroke="#848484" stroke-width="1"/>
<line x1="417.5" x2="417.5" y1="572.5" y2="575.5" stroke="#848484" stroke-width="1"/>
<text x="417.3" y="588.0" font-size="10.8" text-anchor="middle" >1,200</text>
<line x1="468.5" x2="468.5" y1="572.5" y2="575.5" stroke="#848484" stroke-width="1"/>
<text x="468.5" y="588.0" font-size="10.8" text-anchor="middle" >1,150</text>
<line x1="391.5" x2="391.5" y1="572.5" y2="574.7" stroke="#848484" stroke-width="1"/>
<line x1="442.5" x2="442.5" y1="572.5" y2="574.7" stroke="#848484" stroke-width="1"/>
<line x1="513.5" x2="513.5" y1="572.5" y2="575.5" stroke="#848484" stroke-width="1"/>
<text x="513.2" y="588.0" font-size="10.8" text-anchor="middle" >650</text>
<line x1="537.5" x2="537.5" y1="572.5" y2="575.5" stroke="#848484" stroke-width="1"/>
<text x="344.6" y="604.1" font-size="10.5" text-anchor="start" ><tspan font-style="italic">v</tspan> (cm<tspan font-size="7.3" baseline-shift="4.2">&#8722;1</tspan>)</text>
<text transform="translate(147.7,443.2) rotate(-90)" font-size="10.8" font-style="italic" text-anchor="middle">&#916;A</text>
<text x="138.9" y="317.9" font-size="12.5" text-anchor="start" font-weight="bold" stroke="#000" stroke-width="0.55">c</text>
<polyline fill="none" stroke="#111" stroke-width="0.95" stroke-linejoin="round"  points="188.50,339.28 189.00,339.51 189.25,339.28 189.75,339.34 190.00,339.14 190.75,339.45 191.00,339.10 191.25,339.20 191.50,339.10 191.75,339.45 192.00,339.40 192.25,339.07 192.50,339.54 193.25,339.36 193.50,339.13 193.75,339.06 194.00,339.31 194.25,339.08 194.75,339.17 195.00,339.07 195.25,339.28 195.50,339.27 195.75,339.47 196.00,339.31 196.75,339.38 197.25,339.19 197.50,339.55 197.75,339.55 198.25,339.40 198.50,339.21 199.00,339.19 199.25,339.09 199.50,339.43 199.75,339.25 200.00,339.47 200.25,339.24 200.50,339.53 200.75,339.47 201.00,339.05 201.25,339.15 201.50,339.51 201.75,339.28 202.00,339.54 202.50,339.09 202.75,339.36 203.00,339.44 203.25,339.18 203.50,339.09 203.75,339.22 204.00,339.53 204.25,339.43 204.50,339.11 204.75,339.17 205.25,339.08 205.50,339.45 205.75,339.14 206.00,339.33 206.50,339.15 206.75,339.42 207.00,339.12 207.25,339.37 207.50,339.11 207.75,339.26 208.00,339.16 208.25,339.18 208.50,339.54 208.75,339.45 209.00,339.20 209.25,339.49 209.50,339.16 210.00,339.48 210.25,339.37 210.50,339.10 210.75,339.54 211.00,339.16 211.25,339.18 211.50,339.44 211.75,339.21 212.25,339.09 212.50,339.10 212.75,339.34 213.00,339.17 213.25,339.35 213.50,339.24 213.75,339.28 214.00,339.53 214.25,339.29 214.75,339.48 215.00,339.14 215.25,339.13 215.50,339.50 215.75,339.46 216.00,339.17 216.25,339.14 216.50,339.42 216.75,339.52 217.00,339.15 217.25,339.53 218.50,339.07 218.75,339.53 219.00,339.17 219.25,339.40 219.50,339.18 219.75,339.46 220.50,339.14 220.75,339.41 221.00,339.08 221.75,339.48 222.25,339.19 222.50,339.51 222.75,339.15 223.00,339.06 223.50,339.27 223.75,339.08 224.50,339.34 224.75,339.12 225.25,339.50 225.50,339.54 225.75,339.38 226.25,339.30 226.75,338.49 227.25,336.66 227.80,333.76 228.50,335.65 229.00,334.76 229.20,334.08 230.00,337.60 230.25,338.19 230.50,338.37 230.75,338.34 231.00,337.89 231.75,338.03 232.00,337.93 232.50,338.48 233.00,338.33 234.00,336.82 234.75,338.48 235.00,338.88 235.25,339.06 235.75,339.97 236.25,341.66 236.50,341.83 236.60,342.22 236.75,341.74 237.00,341.37 237.50,339.68 238.00,339.25 238.50,339.25 239.00,338.55 239.50,338.60 239.75,338.23 240.00,338.09 240.25,338.34 240.75,337.84 241.00,337.92 241.25,337.49 241.50,337.53 241.75,337.23 242.50,337.78 242.75,337.85 243.25,337.31 244.00,334.46 244.25,333.73 244.50,333.36 244.75,333.55 245.00,334.42 245.75,336.14 246.25,336.04 246.50,336.16 247.25,337.27 247.75,338.65 248.50,338.87 248.75,339.26 249.00,338.67 249.25,338.71 249.75,337.83 250.00,337.95 250.25,337.68 250.75,338.59 251.00,338.69 251.25,339.32 251.50,339.21 251.75,339.45 252.00,339.96 252.50,341.95 252.80,342.58 253.00,342.41 253.25,341.66 253.75,339.68 254.25,339.19 254.50,339.07 255.00,339.41 255.25,339.14 255.75,339.22 256.00,339.40 256.25,339.31 256.75,339.43 257.00,339.25 257.25,339.45 257.50,339.50 257.75,339.09 258.00,339.52 258.25,339.41 258.50,339.11 259.25,339.50 259.50,339.24 260.00,339.49 260.50,339.52 260.75,339.28 261.00,339.38 261.25,339.15 261.50,339.41 261.75,339.46 262.00,339.37 262.25,339.41 262.50,339.16 262.75,339.50 263.00,339.54 263.25,339.54 263.50,339.32 263.75,339.45 264.00,339.21 264.25,339.50 264.50,339.48 265.00,339.09 265.75,339.43 266.25,339.06 266.50,339.45 266.75,339.08 267.00,339.45 267.25,339.14 267.50,339.22 267.75,339.44 268.00,339.12 268.25,339.12 268.50,339.31 269.00,339.47 269.25,339.39 269.50,339.52 269.75,339.30 270.00,339.52 270.25,339.09 270.75,339.31 271.00,339.20 271.25,339.41 271.75,339.31 272.00,339.47 272.50,339.21 272.75,339.24 273.00,339.47 273.25,339.50 273.50,339.15 273.75,339.48 274.00,339.53 274.25,339.31 274.50,339.34 274.75,339.15 275.00,339.32 275.50,339.35 275.75,339.06 276.00,339.53 276.25,339.31 276.50,339.25 276.75,339.45 277.25,339.30 277.50,339.40 277.75,339.08 278.00,339.32 278.25,339.26 278.50,339.53 278.75,339.51 279.00,339.18 279.25,339.29 279.50,339.11 280.00,339.46 280.25,339.50 280.50,339.29 281.00,339.15 281.50,339.51 281.75,339.11 282.00,339.44 282.25,339.06 282.75,339.16 283.00,339.39 283.25,339.21 283.75,339.36 284.00,340.60 286.50,342.50 288.70,345.00 291.00,344.50 293.00,343.00 294.50,344.00 295.50,352.00 296.50,380.00 297.30,420.50 299.00,360.00 299.60,352.50 300.60,353.50 301.70,358.00 302.50,360.60 304.20,350.80 305.00,360.00 305.80,375.00 306.50,384.00 307.50,400.00 308.60,457.00 309.60,420.00 310.40,380.00 310.90,370.40 311.60,378.00 312.30,387.70 313.00,375.00 313.80,355.00 314.60,345.00 316.90,341.50 320.00,341.00 323.00,340.00 326.10,338.70 328.50,339.50 329.60,342.00 330.60,355.00 331.90,380.20 333.50,352.00 334.20,349.60 335.30,353.00 336.50,360.60 337.60,355.00 338.60,351.50 340.00,350.30 343.00,346.00 346.50,342.60 350.00,341.30 352.00,341.60 354.00,343.00 356.00,341.00 362.00,339.20 367.25,338.83 367.50,338.71 367.75,338.83 368.00,338.65 368.25,338.62 368.50,338.93 369.00,338.70 370.00,338.91 370.25,338.66 370.50,338.86 370.75,338.78 371.00,338.88 372.00,338.93 372.50,338.71 373.00,338.85 373.25,338.66 373.50,338.66 373.75,338.52 374.00,338.82 374.25,338.95 374.50,338.64 374.75,338.53 375.25,338.66 375.50,338.60 375.75,338.93 376.00,338.48 376.25,338.60 376.50,338.51 376.75,338.77 377.00,338.84 377.25,338.54 377.50,338.48 378.25,338.90 378.50,338.47 379.50,338.57 379.75,338.81 380.25,338.56 381.00,338.54"/>
<polyline fill="none" stroke="#111" stroke-width="0.95" stroke-linejoin="round"  points="386.40,339.08 386.90,339.20 387.15,338.89 387.40,338.81 387.65,339.02 387.90,338.96 388.15,339.29 388.90,339.13 389.15,339.20 389.40,338.89 389.65,339.06 389.90,338.90 390.15,339.34 390.40,338.84 390.65,339.29 390.90,338.84 391.15,339.21 391.40,339.00 391.65,339.04 391.90,339.31 392.15,338.81 392.40,338.84 392.65,339.35 393.15,338.85 393.40,339.39 393.65,339.37 393.90,338.87 394.15,339.05 394.40,338.88 394.90,339.17 395.15,338.90 395.40,339.22 395.65,338.83 395.90,338.90 396.15,339.29 396.40,339.04 396.90,339.16 397.40,339.03 397.65,338.82 397.90,339.24 398.15,339.38 398.40,339.39 398.90,339.01 399.15,339.02 399.40,339.21 399.65,339.20 399.90,338.87 400.65,339.11 400.90,339.29 401.40,338.82 401.65,339.29 401.90,339.06 402.15,339.11 402.40,338.93 402.65,339.06 402.90,339.03 403.15,339.26 403.40,338.86 403.65,339.13 403.90,338.91 404.15,339.22 404.40,338.82 405.15,339.18 405.40,338.83 405.65,339.08 405.90,338.93 406.15,338.97 406.40,339.09 406.65,339.38 406.90,339.09 407.15,339.37 407.40,338.90 407.65,339.35 407.90,339.02 408.15,338.91 408.40,339.25 408.65,339.35 408.90,338.80 409.40,339.26 409.65,339.01 410.15,338.81 410.40,338.82 410.90,339.39 411.15,339.40 411.65,338.81 412.15,339.27 412.40,339.30 412.90,338.94 413.15,339.12 413.65,339.18 413.90,338.96 414.15,339.37 414.40,339.34 414.65,338.90 414.90,338.97 415.15,339.32 415.40,338.97 415.65,339.37 415.90,339.11 416.40,339.22 416.65,338.93 417.15,338.95 417.40,339.21 417.65,339.22 417.90,338.88 418.15,339.33 418.40,339.05 418.65,338.94 418.90,339.06 419.15,339.39 419.40,339.14 420.15,339.38 420.65,339.05 421.15,339.34 421.90,339.01 422.15,339.02 422.40,339.24 422.65,339.14 422.90,338.81 423.15,339.23 423.40,339.34 423.65,339.28 424.15,339.35 424.40,339.12 424.65,339.27 425.15,338.86 425.40,339.01 425.65,338.99 425.90,339.36 426.40,339.12 426.65,339.17 426.90,338.87 427.15,339.12 427.40,339.22 427.90,338.95 428.15,339.04 428.40,338.99 428.65,339.21 428.90,338.89 429.15,338.85 429.65,339.22 430.15,339.20 430.40,339.36 430.90,338.82 431.15,339.09 431.40,339.07 431.65,338.91 431.90,339.20 432.15,339.00 432.65,339.00 432.90,339.37 433.15,338.80 433.40,339.02 433.90,338.92 434.15,339.06 434.40,338.93 434.65,339.35 434.90,339.10 435.15,339.22 435.40,338.90 436.15,339.31 436.40,338.95 436.90,339.31 437.15,339.30 437.40,338.94 437.90,339.26 438.15,339.04 438.40,339.20 438.65,339.20 438.90,339.38 439.15,339.13 439.40,339.21 439.65,339.01 439.90,339.24 440.15,338.99 440.40,339.10 441.15,338.88 441.40,338.94 441.65,339.13 442.15,338.83 442.40,339.28 442.65,338.97 442.90,339.36 443.40,339.03 443.65,339.32 443.90,339.34 444.15,338.99 444.40,338.88 444.65,339.18 444.90,339.31 445.15,339.17 445.40,339.27 445.65,339.05 445.90,339.17 446.15,338.96 446.40,339.04 447.15,339.04 447.40,339.28 447.65,338.90 448.15,338.95 448.40,339.38 448.90,338.83 449.00,339.20 450.50,339.50 451.50,341.50 452.20,345.50 453.00,341.00 454.00,339.30 456.00,339.60 457.50,340.50 458.80,346.00 459.80,351.00 461.80,341.00 462.60,340.20 463.60,343.00 464.60,348.50 465.40,348.00 466.40,343.00 467.40,339.80 468.50,339.20 469.60,341.00 470.80,340.00 472.00,338.50 473.40,337.40 474.50,338.50 475.80,340.80 477.00,340.50 478.50,339.50 480.00,339.00 481.20,339.80 482.20,340.20 485.00,338.20 486.00,338.60 487.00,338.80 488.80,335.60"/>
<polyline fill="none" stroke="#111" stroke-width="0.95" stroke-linejoin="round"  points="495.20,338.71 495.50,339.22 495.80,339.22 496.10,339.42 496.40,338.62 496.70,338.68 497.00,338.58 497.30,338.67 497.60,339.28 497.90,338.56 498.20,339.04 498.50,338.66 499.10,338.92 499.40,339.41 499.70,339.13 500.00,338.42 500.30,338.73 500.60,338.58 500.90,339.45 502.10,339.29 502.40,339.54 502.70,339.35 503.00,338.71 503.30,339.42 503.60,338.98 503.90,339.31 504.50,338.92 504.80,338.84 505.10,338.92 505.70,338.54 506.00,339.38 506.30,339.36 506.60,339.58 506.90,339.23 507.20,339.07 507.50,339.30 507.80,338.56 508.10,339.21 508.70,338.61 509.00,338.64 509.30,339.03 509.60,338.70 510.20,339.13 510.80,338.56 511.10,338.99 511.40,338.68 512.00,338.63 512.30,338.84 512.60,338.49 512.90,339.18 513.20,339.54 513.50,338.87 514.10,339.52 514.40,338.45 514.70,338.57 515.00,339.37 515.30,339.41 515.60,339.17 515.90,338.59 516.20,338.90 516.50,339.44 516.80,339.46 517.10,339.36 517.40,338.64 517.70,339.42 518.00,338.85 518.30,339.26 518.60,338.56 518.90,339.57 519.20,339.12 519.50,339.27 519.80,338.65 520.10,339.14 520.00,339.20 521.50,339.80 522.30,341.00 523.30,342.00 524.20,342.50 525.00,344.60 525.80,342.00 526.50,341.00 527.30,342.50 528.20,340.00 529.00,338.80 530.50,338.40 532.00,339.20 533.50,338.40 535.00,338.80 536.50,338.20 537.80,339.20"/>
<polyline fill="none" stroke="#111" stroke-width="0.95" stroke-linejoin="round"  points="188.50,442.20 188.75,442.51 189.50,442.23 189.75,442.58 190.00,442.58 191.00,442.10 191.50,442.45 191.75,442.14 192.00,442.58 192.25,442.24 192.75,442.13 193.00,442.70 193.25,442.54 193.50,442.63 193.75,442.47 194.00,442.12 194.50,442.40 194.75,442.17 195.00,442.67 195.25,442.32 195.50,442.19 195.75,442.59 196.00,442.17 196.25,442.66 196.50,442.37 196.75,442.43 197.00,442.31 197.25,442.39 197.75,442.12 198.00,442.62 198.25,442.24 198.50,442.57 198.75,442.23 199.00,442.68 200.00,442.45 200.25,442.54 200.50,442.17 201.00,442.60 201.25,442.22 201.50,442.65 201.75,442.63 202.00,442.35 202.75,442.33 203.00,442.70 203.50,442.12 203.75,442.16 204.00,442.53 204.25,442.70 204.50,442.40 205.00,442.43 205.25,442.55 205.50,442.23 205.75,442.47 206.25,442.47 206.50,442.21 206.75,442.20 207.00,442.31 207.25,442.66 207.50,442.31 207.75,442.46 208.25,442.16 208.50,442.14 208.75,442.59 209.00,442.57 209.25,442.32 209.50,442.51 210.25,442.67 210.50,442.34 210.75,442.69 211.00,442.68 211.25,442.45 211.50,442.63 211.75,442.39 212.25,442.25 212.50,442.63 212.75,442.20 213.00,442.14 213.25,442.58 213.50,442.56 213.75,442.39 214.00,442.60 214.25,442.13 215.00,442.35 215.50,442.14 216.00,442.40 218.40,442.20 220.30,440.60 221.70,440.00 223.50,440.40 227.50,443.20 229.00,444.40 230.10,444.60 231.20,443.80 232.30,442.60 234.00,442.30 236.00,442.90 238.00,442.60 240.00,443.00 242.00,442.25 242.25,442.52 242.50,442.59 243.25,442.24 244.00,442.48 244.25,442.68 244.50,442.15 244.75,442.39 245.00,442.40 245.50,442.63 246.00,442.48 246.25,442.56 246.50,442.50 246.75,442.62 247.25,442.51 247.50,442.25 247.75,442.65 248.00,442.33 248.50,442.59 249.00,442.69 249.25,442.10 249.50,442.29 250.00,442.33 250.25,442.19 250.50,442.43 250.75,442.15 251.00,442.28 251.25,442.67 252.00,442.16 252.25,442.67 252.75,442.22 253.25,442.48 253.50,442.51 253.75,442.26 254.00,442.67 254.25,442.29 254.50,442.25 254.75,442.61 255.00,442.19 255.25,442.51 255.50,442.22 255.75,442.46 256.00,442.27 256.25,442.33 256.50,442.66 256.75,442.38 257.00,442.36 257.25,442.47 257.50,442.27 257.75,442.20 258.00,442.33 258.50,442.21 258.75,442.68 259.00,442.12 259.25,442.59 259.50,442.66 259.75,442.52 260.00,442.11 260.25,442.40 260.50,442.12 260.75,442.46 261.00,442.52 261.50,442.10 261.75,442.43 262.00,442.16 262.50,442.37 262.75,442.64 263.00,442.32 263.25,442.18 263.50,442.58 263.75,442.59 264.25,442.13 265.00,442.43 265.25,442.24 265.50,442.58 266.00,442.66 266.25,442.63 266.50,442.11 266.75,442.45 267.00,442.15 267.25,442.64 267.75,442.56 268.00,442.21 268.25,442.14 268.50,442.59 269.25,442.38 269.50,442.58 269.75,442.30 270.00,442.26 270.50,442.28 271.00,442.63 271.25,442.14 271.50,442.14 271.75,442.41 272.00,442.51 272.25,442.21 272.50,442.26 272.75,442.14 273.00,442.12 273.25,442.40 273.50,442.51 273.75,442.49 274.00,442.19 274.25,442.16 274.50,442.66 274.75,442.42 275.00,442.35 275.25,442.51 275.50,442.54 276.00,442.15 276.25,442.60 276.50,442.23 276.75,442.12 277.00,442.31 277.50,442.48 277.75,442.20 278.00,442.53 278.50,442.20 278.75,442.61 279.25,442.64 280.00,442.00 282.00,442.30 283.50,443.50 284.50,447.00 285.30,460.00 286.10,480.00 287.30,497.30 288.30,480.00 289.00,455.00 289.80,451.60 291.50,450.00 292.50,446.00 293.80,444.40 296.00,443.80 299.00,442.30 302.00,442.50 304.00,444.00 305.50,446.00 307.00,447.50 309.00,446.50 311.00,448.50 312.50,452.00 313.50,457.00 314.40,459.40 315.50,455.00 316.50,449.00 318.00,446.00 320.00,444.00 323.00,442.80 330.00,442.40 330.25,442.29 330.50,442.58 330.75,442.55 331.00,442.19 331.25,442.29 331.50,442.17 331.75,442.50 332.25,442.24 332.50,442.32 332.75,442.62 333.00,442.36 333.25,442.51 333.75,442.38 334.00,442.43 334.50,442.22 334.75,442.40 335.50,442.21 335.75,442.65 336.00,442.36 336.50,442.12 336.75,442.23 337.00,442.62 337.25,442.30 337.50,442.50 337.75,442.24 338.00,442.49 338.25,442.37 338.50,442.54 339.25,442.27 339.75,442.60 340.50,442.30 340.75,442.63 341.00,442.61 341.25,442.19 341.50,442.51 342.00,442.51 342.25,442.68 342.50,442.63 342.75,442.25 343.00,442.70 343.25,442.30 343.50,442.33 343.75,442.69 344.00,442.20 344.50,442.48 344.75,442.26 345.00,442.26 345.25,442.58 345.50,442.47 347.00,442.69 347.25,442.40 347.50,442.52 347.75,442.41 348.00,442.68 348.50,442.36 348.75,442.50 349.25,442.18 349.50,442.33 350.00,442.10 350.25,442.16 350.75,442.56 351.00,442.13 351.25,442.48 351.50,442.17 351.75,442.41 352.00,442.28 352.50,442.53 352.75,442.35 353.00,442.34 353.25,442.54 353.50,442.17 354.00,442.52 354.50,442.69 354.75,442.25 355.00,442.48 355.25,442.29 355.50,442.52 355.75,442.61 356.00,442.18 356.25,442.31 356.50,442.66 356.75,442.31 357.25,442.59 357.50,442.27 357.75,442.57 358.00,442.10 358.25,442.30 358.50,442.20 358.75,442.31 359.25,442.12 359.50,442.58 359.75,442.20 360.00,442.44 360.25,442.43 360.50,442.61 360.75,442.61 361.00,442.47 361.25,442.20 361.50,442.56 361.75,442.16 362.00,442.66 362.25,442.29 362.75,442.23 363.25,442.57 363.50,442.61 364.00,442.54 364.25,442.25 365.00,442.36 365.25,442.62 365.50,442.70 365.75,442.15 366.00,442.68 366.25,442.65 366.50,442.38 367.00,442.57 367.25,442.21 367.75,442.69 368.25,442.65 368.50,442.15 368.75,442.53 369.00,442.39 369.25,442.65 369.50,442.20 369.75,442.43 370.00,442.17 370.25,442.58 370.50,442.53 370.75,442.12 371.00,442.29 371.25,442.18 371.50,442.48 371.75,442.48 372.00,442.14 372.25,442.67 372.50,442.68 372.75,442.36 373.00,442.44 373.25,442.32 373.50,442.46 373.75,442.34 374.00,442.36 374.25,442.55 374.50,442.21 374.75,442.28 375.00,442.56 375.25,442.23 375.50,442.14 375.75,442.65 376.00,442.20 376.25,442.35 376.75,442.26 377.25,442.42 377.50,442.17 377.75,442.42 378.00,442.13 378.25,442.15 379.00,442.30 379.25,442.27 379.50,442.60 380.00,442.38 380.25,442.56 380.50,442.51 380.75,442.29 381.00,442.47"/>
<polyline fill="none" stroke="#111" stroke-width="0.95" stroke-linejoin="round"  points="386.40,442.82 386.65,442.08 386.90,441.97 387.15,442.85 387.40,442.12 387.65,442.06 387.90,442.54 388.15,442.26 388.40,442.75 388.65,442.16 388.90,442.82 389.15,442.24 389.65,442.79 389.90,442.57 390.15,442.78 390.40,442.59 390.65,442.00 390.90,442.75 391.40,442.23 391.65,442.12 391.90,442.72 392.15,442.48 392.40,442.80 392.65,442.65 392.90,442.82 393.15,442.46 393.40,442.58 393.65,442.51 393.90,442.19 394.15,442.82 394.40,442.24 394.65,442.66 394.90,442.81 395.40,442.08 395.65,442.70 395.90,442.56 396.15,442.12 396.40,442.00 396.65,442.43 396.90,441.98 397.15,442.79 397.40,442.41 397.90,442.32 398.40,442.78 398.65,442.23 399.15,442.48 399.40,442.22 399.65,442.49 400.15,442.35 400.40,442.56 400.65,442.43 400.90,442.03 401.15,442.85 401.40,442.28 401.90,442.32 402.15,442.79 402.40,442.81 402.65,442.42 402.90,442.32 403.15,442.04 403.40,442.76 403.65,442.11 403.90,442.45 404.15,442.27 404.65,442.28 405.15,441.99 405.40,442.44 405.65,442.67 405.90,442.54 406.15,442.14 406.40,442.58 406.65,442.00 407.15,442.70 407.40,442.79 407.65,442.37 407.90,442.72 408.15,442.41 408.65,442.48 408.90,442.85 409.40,442.38 409.65,442.61 409.90,442.54 410.15,442.28 410.40,442.67 410.65,442.70 410.90,442.51 411.15,442.81 411.40,441.98 411.65,442.41 411.90,442.53 412.40,442.12 412.65,442.58 413.40,442.00 413.65,442.83 413.90,442.28 414.15,442.07 414.65,442.19 414.90,442.74 415.15,442.13 415.40,442.21 415.65,442.05 415.90,442.39 416.15,442.15 416.40,442.27 416.65,442.63 416.90,442.80 417.15,442.72 417.40,442.00 417.90,442.73 418.15,442.00 418.65,442.41 418.90,442.31 419.15,442.64 419.40,442.62 419.90,442.19 420.40,442.21 420.65,442.03 420.90,442.57 421.15,442.12 421.40,442.77 421.65,442.56 421.90,442.03 422.15,442.43 422.40,442.52 422.65,442.02 422.90,442.42 423.15,442.01 423.40,442.67 423.65,441.98 423.90,442.55 424.15,442.87 424.40,442.75 424.65,442.19 424.90,442.47 425.15,442.11 425.40,442.30 425.65,442.77 425.90,442.73 426.15,442.00 426.65,442.57 426.90,442.16 427.15,442.72 427.40,442.80 427.90,442.33 428.15,442.77 428.65,442.18 428.90,442.26 429.15,442.16 429.40,442.77 429.65,442.48 430.40,442.91 430.65,442.21 430.90,442.41 431.15,442.83 431.40,442.74 431.65,442.41 431.90,442.65 432.15,442.25 432.65,442.13 432.90,442.44 433.15,442.32 433.65,443.00 433.90,442.28 434.40,442.95 434.65,442.72 434.90,442.68 435.15,442.92 435.40,442.27 435.65,443.13 435.90,442.93 436.40,443.14 436.65,442.53 436.90,442.56 437.15,442.74 437.65,443.66 437.90,443.85 438.15,443.75 438.90,446.03 439.40,449.19 439.90,451.16 440.00,451.24 440.15,451.18 440.40,450.54 440.90,448.30 441.15,447.87 441.65,445.07 442.15,444.00 442.40,443.96 442.90,443.26 443.15,443.37 443.65,443.02 443.90,443.35 444.15,442.82 444.65,443.21 444.90,443.24 445.40,442.34 445.65,443.12 446.15,442.41 446.40,442.31 446.90,442.44 447.40,442.18 447.65,443.02 447.90,442.85 448.15,442.20 448.65,442.80 449.15,442.13 449.40,442.37 449.65,442.40 449.90,442.87 450.15,442.57 450.40,442.45 450.65,442.60 450.90,442.08 451.15,442.65 451.40,442.75 452.40,442.02 452.90,442.15 453.40,442.70 453.65,442.20 454.15,442.57 454.40,442.56 454.65,442.01 454.90,442.82 455.40,442.26 455.65,442.20 456.15,442.83 456.40,442.29 456.90,442.48 457.15,442.14 457.40,442.35 457.65,442.81 457.90,442.48 458.15,442.72 458.40,442.21 458.65,442.76 458.90,442.68 459.15,442.18 459.65,442.59 459.90,442.49 460.15,442.52 460.40,442.19 460.65,442.47 460.90,442.29 461.15,442.69 461.40,442.31 461.65,442.85 462.15,442.17 462.40,442.34 462.65,442.08 462.90,442.63 463.15,442.01 463.40,442.51 463.65,442.24 463.90,442.67 464.15,442.08 464.40,442.58 464.65,442.61 464.90,442.17 465.15,442.08 465.65,442.55 466.15,441.97 466.65,442.69 466.90,442.10 467.15,442.81 467.65,442.11 467.90,442.05 468.15,442.30 468.40,442.39 468.65,442.12 468.90,442.04 469.15,442.41 469.40,442.19 469.65,442.36 469.90,442.37 470.15,442.59 470.40,442.48 470.65,442.17 470.90,442.12 471.15,442.73 471.40,442.00 471.90,442.02 472.15,442.70 472.40,442.45 472.65,442.79 473.15,442.26 473.40,442.35 473.65,442.62 473.90,442.17 474.15,442.68 474.65,442.00 475.15,442.46 475.40,442.09 475.65,442.77 475.90,442.79 476.15,442.42 476.40,442.77 476.90,442.44 477.15,442.10 477.40,442.81 477.65,442.78 477.90,442.36 478.15,442.30 478.40,442.02 478.65,442.51 478.90,442.73 479.15,442.31 479.40,442.22 479.90,442.67 480.15,442.11 480.40,442.21 480.65,442.53 480.90,441.99 481.15,442.69 481.40,442.24 481.65,442.70 482.15,442.10 482.40,441.97 482.90,442.19 483.15,442.64 483.40,442.67 483.90,442.23 484.15,442.55 484.40,442.61 484.90,442.03 485.15,442.38 485.40,442.15 485.65,442.12 485.90,442.31 486.15,442.02 486.40,442.76 486.65,442.21 486.90,442.76 487.15,442.62 487.40,441.96 487.65,442.76 487.90,442.68 488.15,442.43 488.40,442.75 488.90,441.98"/>
<polyline fill="none" stroke="#111" stroke-width="0.95" stroke-linejoin="round"  points="495.20,443.25 495.45,443.30 495.70,443.18 495.95,441.57 496.20,442.58 496.45,442.25 496.70,442.46 496.95,441.66 497.20,441.78 497.45,442.29 497.70,441.84 497.95,442.31 498.20,441.45 498.45,441.57 498.70,442.82 498.95,442.24 499.20,442.43 499.45,442.87 499.95,441.52 500.20,442.97 500.45,442.58 500.70,442.72 500.95,442.64 501.20,443.34 501.45,442.13 501.70,442.92 501.95,442.14 502.20,442.54 502.45,442.72 502.95,441.57 503.45,442.84 503.95,442.29 504.20,442.68 504.45,441.76 504.70,441.76 504.95,442.05 505.20,443.03 505.45,441.79 506.20,441.48 506.95,443.04 507.20,442.06 507.45,442.14 507.70,441.98 507.95,442.01 508.20,442.96 508.70,441.92 508.95,441.61 509.20,442.97 509.45,442.81 509.70,443.06 509.95,441.88 510.45,443.24 510.70,442.59 510.95,443.29 511.20,441.73 511.45,443.35 511.70,441.51 511.95,442.23 512.20,441.45 512.45,443.02 512.70,442.77 512.95,443.35 513.20,443.01 513.45,443.30 513.70,442.48 513.95,443.38 514.45,442.09 514.70,443.35 514.95,442.15 515.45,441.55 515.70,442.33 515.95,441.79 516.20,443.27 516.45,443.30 516.70,441.83 516.95,441.61 517.20,442.46 517.45,441.74 517.95,443.04 518.20,441.95 518.45,442.39 518.70,443.58 518.95,443.15 519.20,443.73 519.45,445.81 519.95,447.18 520.20,446.01 520.45,445.81 520.70,445.08 521.20,442.42 521.45,442.21 521.70,442.29 521.95,442.96 522.20,442.52 522.45,442.50 522.70,443.05 522.95,441.62 523.20,442.66 523.45,442.07 523.95,443.07 524.20,441.90 524.45,443.30 524.70,441.56 524.95,442.52 525.20,442.48 525.45,441.87 525.70,442.52 525.95,442.34 526.20,442.30 526.45,442.84 526.70,441.41 527.20,442.97 527.45,441.68 527.70,443.13 527.95,441.81 528.20,442.76 528.45,441.75 528.70,442.30 528.95,442.25 529.20,441.56 529.45,442.80 529.70,442.36 529.95,442.78 530.20,442.48 530.70,442.45 530.95,442.00 531.20,443.20 531.45,441.57 531.70,443.15 531.95,443.13 532.20,442.40 532.45,442.95 532.95,442.61 533.20,441.98 533.70,442.10 533.95,442.00 534.20,443.32 534.45,442.08 534.95,442.24 535.20,443.05 535.45,442.48 535.95,443.47 536.20,444.98 536.50,445.83 536.70,445.46 536.95,445.23 537.45,441.86 537.70,442.37"/>
<polyline fill="none" stroke="#5fa5d8" stroke-width="0.95" stroke-linejoin="round"  points="188.50,510.68 210.75,510.61 219.25,510.38 221.75,510.08 223.25,509.67 224.00,509.29 224.50,508.90 225.25,507.95 225.75,506.84 226.00,506.03 226.50,503.41 227.00,498.06 227.25,493.19 227.50,485.57 228.00,458.60 228.30,447.50 228.50,452.97 229.00,481.44 229.25,490.55 229.50,496.36 230.00,502.64 230.50,505.63 231.00,507.24 231.50,508.20 232.00,508.81 232.75,509.38 233.75,509.81 234.75,510.06 236.50,510.31 239.25,510.48 248.50,510.63 328.25,510.67 330.25,510.60 331.25,510.41 331.75,510.03 332.40,508.90 333.00,509.96 333.50,510.39 334.25,510.57 336.00,510.66 380.75,510.67 382.50,510.56 383.00,510.37 383.60,509.90 384.50,510.51 386.25,510.67 423.25,510.63 425.75,510.44 426.50,510.20 427.00,509.82 427.50,508.84 428.30,504.90 428.50,505.58 429.00,508.49 429.50,509.69 430.00,510.15 430.50,510.36 432.25,510.59 444.25,510.69 507.00,510.65 508.50,510.54 509.25,510.22 509.50,509.91 510.10,508.50 510.75,509.99 511.00,510.26 511.50,510.49 512.25,510.61 516.25,510.69 537.75,510.70"/>
<polyline fill="none" stroke="#ab76e0" stroke-width="0.95" stroke-linejoin="round"  points="188.50,528.59 218.75,528.54 229.25,528.36 232.00,528.16 234.00,527.80 235.25,527.29 235.75,526.93 236.25,526.42 236.75,525.62 237.25,524.32 237.75,521.98 238.25,517.27 238.50,513.02 238.75,506.39 239.50,469.79 239.60,468.40 239.75,471.44 240.50,507.96 241.00,517.92 241.50,522.29 241.75,523.56 242.25,525.18 242.75,526.14 243.25,526.75 243.75,527.16 244.50,527.56 246.00,527.99 248.00,528.24 255.25,528.50 295.50,528.59 315.25,528.50 317.00,528.28 317.75,527.87 318.25,527.02 319.00,524.10 319.75,527.02 320.00,527.55 320.25,527.87 320.75,528.19 322.25,528.47 330.00,528.59 381.00,528.60"/>
<polyline fill="none" stroke="#ab76e0" stroke-width="0.95" stroke-linejoin="round"  points="387.00,528.60 415.50,528.58 419.00,528.52 420.75,528.39 421.75,528.10 422.25,527.67 422.50,527.24 422.75,526.51 423.25,523.95 423.40,523.60 423.50,523.76 424.00,526.32 424.25,527.12 424.50,527.60 424.75,527.89 425.25,528.19 426.75,528.47 434.75,528.59 488.75,528.60"/>
<polyline fill="none" stroke="#ab76e0" stroke-width="0.95" stroke-linejoin="round"  points="495.20,528.60 503.70,528.57 505.95,528.42 506.45,528.25 506.95,527.76 507.60,526.00 508.20,527.66 508.45,528.03 508.95,528.34 509.95,528.51 514.45,528.59 537.70,528.60"/>
<polyline fill="none" stroke="#fd6a70" stroke-width="0.95" stroke-linejoin="round"  points="188.50,546.59 223.75,546.55 235.75,546.41 239.00,546.23 241.00,545.95 242.50,545.47 243.50,544.78 244.25,543.75 244.75,542.50 245.00,541.55 245.50,538.43 245.75,535.74 246.25,525.31 247.00,490.23 247.10,488.90 247.25,491.82 248.00,526.82 248.50,536.37 249.00,540.55 249.25,541.77 249.75,543.32 250.25,544.24 250.75,544.83 251.25,545.22 252.00,545.60 253.25,545.96 255.25,546.23 261.50,546.48 291.50,546.57 296.75,546.52 299.25,546.38 300.50,546.03 301.00,545.63 301.25,545.25 301.50,544.63 301.75,543.59 302.25,539.89 302.40,539.39 302.50,539.62 303.00,543.30 303.25,544.47 303.50,545.15 303.75,545.57 304.25,546.01 305.00,546.28 306.00,546.43 308.75,546.54 315.25,546.58 381.00,546.60"/>
<polyline fill="none" stroke="#fd6a70" stroke-width="0.95" stroke-linejoin="round"  points="387.00,546.60 409.25,546.57 412.25,546.51 413.75,546.37 414.75,546.00 415.25,545.40 415.50,544.77 416.00,542.36 416.20,541.80 416.75,544.20 417.00,545.06 417.25,545.57 417.50,545.87 418.00,546.19 418.75,546.39 419.75,546.49 428.25,546.59 488.75,546.60"/>
<polyline fill="none" stroke="#fd6a70" stroke-width="0.95" stroke-linejoin="round"  points="495.20,546.59 501.70,546.56 503.70,546.41 504.20,546.23 504.70,545.66 505.30,544.00 505.95,545.76 506.20,546.08 506.70,546.36 507.70,546.51 512.45,546.59 537.70,546.60"/>
<polyline fill="none" stroke="#333333" stroke-width="1.1" stroke-linejoin="round"  points="188.50,564.98 207.50,564.90 215.00,564.65 217.00,564.42 218.50,564.03 219.25,563.67 219.75,563.31 220.50,562.44 221.00,561.42 221.25,560.68 221.75,558.32 222.25,553.56 222.50,549.26 222.75,542.56 223.50,505.61 223.60,504.20 223.75,507.27 224.50,544.16 225.00,554.22 225.50,558.63 225.75,559.91 226.25,561.55 226.75,562.52 227.25,563.13 228.00,563.70 228.75,564.05 230.00,564.38 232.00,564.64 238.75,564.89 271.50,564.99 287.00,564.89 288.75,564.63 289.25,564.35 289.50,564.09 290.00,562.94 290.50,560.64 290.60,560.49 290.75,560.81 291.25,563.12 291.75,564.16 292.00,564.39 292.50,564.65 294.25,564.89 304.00,564.99 381.00,565.00"/>
<polyline fill="none" stroke="#333333" stroke-width="1.1" stroke-linejoin="round"  points="387.00,564.99 399.25,564.94 401.25,564.83 402.25,564.64 403.00,564.18 403.50,563.27 404.30,559.60 404.50,560.23 405.00,562.94 405.50,564.06 405.75,564.32 406.25,564.60 407.00,564.78 408.00,564.88 417.50,564.99 488.75,565.00"/>
<polyline fill="none" stroke="#333333" stroke-width="1.1" stroke-linejoin="round"  points="495.20,564.99 500.70,564.95 502.45,564.77 502.95,564.52 503.20,564.24 503.90,562.40 504.45,563.96 504.70,564.38 505.20,564.72 506.20,564.90 510.95,564.99 537.70,565.00"/>
<path d="M452,346 L416.4,358.6 V541 M459.6,351 L423.4,364.5 V522 M464.8,352.2 L428.4,366.8 V505 M440,450 V551 L406,558.6 M522.1,342.9 L505.6,354.1 V544 M524.4,346.2 L507.9,357.7 V525 M527.7,346.5 L509.9,359.7 V507 M520,446 V547.8 L505,561" stroke="#8a8a8a" stroke-width="0.7" stroke-dasharray="1.4 1.2" fill="none"/>
<text x="333.0" y="334.0" font-size="10.8" text-anchor="start" >Br<tspan font-size="7.8" baseline-shift="-3.1">2</tspan> + Ag<tspan font-size="7.6" baseline-shift="4.8">15</tspan>N<tspan font-size="7.6" baseline-shift="4.8">14</tspan>N<tspan font-size="7.6" baseline-shift="4.8">14</tspan>N</text>
<text x="336.3" y="437.1" font-size="10.8" text-anchor="start" >Br<tspan font-size="7.8" baseline-shift="-3.1">2</tspan> + Ag<tspan font-size="7.6" baseline-shift="4.8">14</tspan>N<tspan font-size="7.8" baseline-shift="-3.1">3</tspan></text>
<text x="414.3" y="508.8" font-size="10.8" text-anchor="end" ><tspan font-weight="bold">1c</tspan>: NN<tspan font-size="7.6" baseline-shift="4.8">15</tspan>N<tspan font-size="7.6" baseline-shift="4.8">15</tspan>NNN</text>
<text x="414.3" y="527.2" font-size="10.8" text-anchor="end" ><tspan font-weight="bold">1b</tspan>: <tspan font-size="7.6" baseline-shift="4.8">15</tspan>NNN<tspan font-size="7.6" baseline-shift="4.8">15</tspan>NNN</text>
<text x="414.3" y="544.9" font-size="10.8" text-anchor="end" ><tspan font-weight="bold">1a</tspan>: <tspan font-size="7.6" baseline-shift="4.8">15</tspan>NNNNN<tspan font-size="7.6" baseline-shift="4.8">15</tspan>N</text>
<text x="397.2" y="561.4" font-size="10.8" text-anchor="end" ><tspan font-weight="bold">1</tspan>: NNNNNN</text>
<text x="228.2" y="559.3" font-size="10.8" text-anchor="start" ><tspan font-family="Liberation Serif" font-size="12">&#957;</tspan><tspan font-size="7.8" baseline-shift="-3.1">11</tspan></text>
<text x="291.2" y="558.6" font-size="10.8" text-anchor="start" ><tspan font-family="Liberation Serif" font-size="12">&#957;</tspan><tspan font-size="7.8" baseline-shift="-3.1">8</tspan> + <tspan font-family="Liberation Serif" font-size="12">&#957;</tspan><tspan font-size="7.8" baseline-shift="-3.1">9</tspan></text>
<text x="414.5" y="559.3" font-size="10.8" text-anchor="start" ><tspan font-family="Liberation Serif" font-size="12">&#957;</tspan><tspan font-size="7.8" baseline-shift="-3.1">9</tspan></text>
<text x="516.0" y="559.6" font-size="10.8" text-anchor="start" ><tspan font-family="Liberation Serif" font-size="12">&#957;</tspan><tspan font-size="7.8" baseline-shift="-3.1">7</tspan></text>
<path d="M227.60,324.80 L226.90,332.10 M229.70,324.80 L229.00,332.10 M225.65,327.43 H230.95 M225.65,329.47 H230.95" stroke="#1a1a1a" stroke-width="0.95" fill="none"/>
<path d="M235.60,344.20 L234.90,351.50 M237.70,344.20 L237.00,351.50 M233.65,346.83 H238.95 M233.65,348.87 H238.95" stroke="#1a1a1a" stroke-width="0.95" fill="none"/>
<path d="M244.30,324.20 L243.60,331.50 M246.40,324.20 L245.70,331.50 M242.35,326.83 H247.65 M242.35,328.87 H247.65" stroke="#1a1a1a" stroke-width="0.95" fill="none"/>
<path d="M252.00,344.20 L251.30,351.50 M254.10,344.20 L253.40,351.50 M250.05,346.83 H255.35 M250.05,348.87 H255.35" stroke="#1a1a1a" stroke-width="0.95" fill="none"/>
<path d="M221.10,431.90 L220.40,439.20 M223.20,431.90 L222.50,439.20 M219.15,434.53 H224.45 M219.15,436.57 H224.45" stroke="#1a1a1a" stroke-width="0.95" fill="none"/>
<path d="M240.90,448.40 L240.20,455.70 M243.00,448.40 L242.30,455.70 M238.95,451.03 H244.25 M238.95,453.07 H244.25" stroke="#1a1a1a" stroke-width="0.95" fill="none"/>
<line x1="237.7" y1="452.7" x2="234.5" y2="449.3" stroke="#111" stroke-width="0.8"/><path d="M231.2,445.8 L236.1,447.8 L232.9,450.8 Z" fill="#111"/>
</svg></body></html>
